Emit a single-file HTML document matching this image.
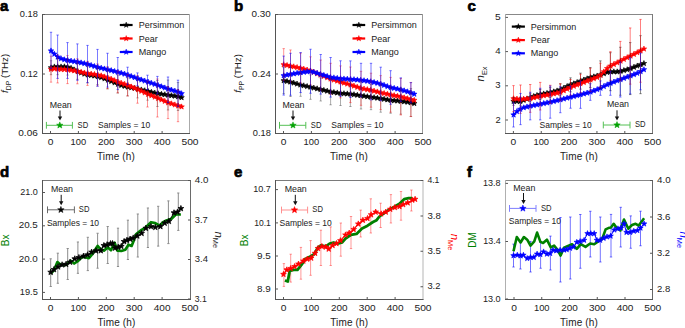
<!DOCTYPE html>
<html><head><meta charset="utf-8"><style>
html,body{margin:0;padding:0;background:#fff;}
svg{display:block;}
text{font-family:"Liberation Sans", sans-serif;}
</style></head><body>
<svg width="685" height="328" viewBox="0 0 685 328">
<rect width="685" height="328" fill="#fff"/>
<text x="0" y="11" font-size="15" text-anchor="start" fill="#000" font-weight="bold" stroke="#000" stroke-width="0.7">a</text>
<text x="234" y="11" font-size="15" text-anchor="start" fill="#000" font-weight="bold" stroke="#000" stroke-width="0.7">b</text>
<text x="467.5" y="11" font-size="15" text-anchor="start" fill="#000" font-weight="bold" stroke="#000" stroke-width="0.7">c</text>
<text x="0" y="176.5" font-size="15" text-anchor="start" fill="#000" font-weight="bold" stroke="#000" stroke-width="0.7">d</text>
<text x="234" y="176.5" font-size="15" text-anchor="start" fill="#000" font-weight="bold" stroke="#000" stroke-width="0.7">e</text>
<text x="467" y="176.5" font-size="15" text-anchor="start" fill="#000" font-weight="bold" stroke="#000" stroke-width="0.7">f</text>
<path d="M51.00,67.69L54.35,66.78L57.70,66.71L61.04,66.77L64.39,66.65L67.74,67.15L71.09,68.21L74.44,69.78L77.78,71.53L81.13,72.79L84.48,73.97L87.83,74.79L91.18,75.31L94.52,75.83L97.87,76.58L101.22,77.43L104.57,78.70L107.92,80.01L111.26,81.32L114.61,82.70L117.96,84.13L121.31,85.34L124.66,86.23L128.00,86.97L131.35,87.65L134.70,88.33L138.05,89.03L141.40,89.80L144.74,90.57L148.09,91.34L151.44,92.12L154.79,92.89L158.14,93.60L161.48,94.08L164.83,94.55L168.18,95.03L171.53,95.53L174.88,96.03L178.22,96.57L181.57,97.57" fill="none" stroke="#000000" stroke-width="1.5" stroke-linejoin="round"/>
<path d="M51.00,64.79L51.72,66.71L53.76,66.79L52.16,68.07L52.70,70.04L51.00,68.91L49.30,70.04L49.84,68.07L48.24,66.79L50.28,66.71ZM54.35,63.88L55.06,65.79L57.11,65.88L55.51,67.15L56.05,69.12L54.35,68.00L52.64,69.12L53.19,67.15L51.59,65.88L53.63,65.79ZM57.70,63.81L58.41,65.72L60.45,65.81L58.85,67.08L59.40,69.05L57.70,67.93L55.99,69.05L56.54,67.08L54.94,65.81L56.98,65.72ZM61.04,63.87L61.76,65.78L63.80,65.87L62.20,67.14L62.75,69.11L61.04,67.98L59.34,69.11L59.89,67.14L58.29,65.87L60.33,65.78ZM64.39,63.75L65.11,65.67L67.15,65.76L65.55,67.03L66.10,69.00L64.39,67.87L62.69,69.00L63.23,67.03L61.63,65.76L63.68,65.67ZM67.74,64.25L68.46,66.17L70.50,66.25L68.90,67.53L69.44,69.50L67.74,68.37L66.04,69.50L66.58,67.53L64.98,66.25L67.02,66.17ZM71.09,65.31L71.80,67.23L73.85,67.32L72.25,68.59L72.79,70.56L71.09,69.43L69.38,70.56L69.93,68.59L68.33,67.32L70.37,67.23ZM74.44,66.88L75.15,68.79L77.19,68.88L75.59,70.15L76.14,72.12L74.44,70.99L72.73,72.12L73.28,70.15L71.68,68.88L73.72,68.79ZM77.78,68.63L78.50,70.54L80.54,70.63L78.94,71.91L79.49,73.88L77.78,72.75L76.08,73.88L76.63,71.91L75.03,70.63L77.07,70.54ZM81.13,69.89L81.85,71.81L83.89,71.90L82.29,73.17L82.84,75.14L81.13,74.01L79.43,75.14L79.97,73.17L78.37,71.90L80.42,71.81ZM84.48,71.07L85.20,72.98L87.24,73.07L85.64,74.34L86.18,76.31L84.48,75.19L82.78,76.31L83.32,74.34L81.72,73.07L83.76,72.98ZM87.83,71.89L88.54,73.80L90.59,73.89L88.99,75.16L89.53,77.13L87.83,76.00L86.12,77.13L86.67,75.16L85.07,73.89L87.11,73.80ZM91.18,72.41L91.89,74.32L93.93,74.41L92.33,75.69L92.88,77.65L91.18,76.53L89.47,77.65L90.02,75.69L88.42,74.41L90.46,74.32ZM94.52,72.93L95.24,74.85L97.28,74.94L95.68,76.21L96.23,78.18L94.52,77.05L92.82,78.18L93.37,76.21L91.77,74.94L93.81,74.85ZM97.87,73.68L98.59,75.59L100.63,75.68L99.03,76.95L99.58,78.92L97.87,77.80L96.17,78.92L96.71,76.95L95.11,75.68L97.16,75.59ZM101.22,74.53L101.94,76.44L103.98,76.53L102.38,77.81L102.92,79.77L101.22,78.65L99.52,79.77L100.06,77.81L98.46,76.53L100.50,76.44ZM104.57,75.80L105.28,77.71L107.33,77.80L105.73,79.08L106.27,81.05L104.57,79.92L102.86,81.05L103.41,79.08L101.81,77.80L103.85,77.71ZM107.92,77.11L108.63,79.02L110.67,79.11L109.07,80.38L109.62,82.35L107.92,81.23L106.21,82.35L106.76,80.38L105.16,79.11L107.20,79.02ZM111.26,78.42L111.98,80.33L114.02,80.42L112.42,81.69L112.97,83.66L111.26,82.53L109.56,83.66L110.11,81.69L108.51,80.42L110.55,80.33ZM114.61,79.80L115.33,81.72L117.37,81.80L115.77,83.08L116.32,85.05L114.61,83.92L112.91,85.05L113.45,83.08L111.85,81.80L113.90,81.72ZM117.96,81.23L118.68,83.14L120.72,83.23L119.12,84.51L119.66,86.48L117.96,85.35L116.26,86.48L116.80,84.51L115.20,83.23L117.24,83.14ZM121.31,82.44L122.02,84.36L124.07,84.45L122.47,85.72L123.01,87.69L121.31,86.56L119.60,87.69L120.15,85.72L118.55,84.45L120.59,84.36ZM124.66,83.33L125.37,85.24L127.41,85.33L125.81,86.60L126.36,88.57L124.66,87.44L122.95,88.57L123.50,86.60L121.90,85.33L123.94,85.24ZM128.00,84.07L128.72,85.98L130.76,86.07L129.16,87.34L129.71,89.31L128.00,88.19L126.30,89.31L126.85,87.34L125.25,86.07L127.29,85.98ZM131.35,84.75L132.07,86.66L134.11,86.75L132.51,88.03L133.06,90.00L131.35,88.87L129.65,90.00L130.19,88.03L128.59,86.75L130.64,86.66ZM134.70,85.43L135.42,87.35L137.46,87.43L135.86,88.71L136.40,90.68L134.70,89.55L133.00,90.68L133.54,88.71L131.94,87.43L133.98,87.35ZM138.05,86.13L138.76,88.04L140.81,88.13L139.21,89.40L139.75,91.37L138.05,90.24L136.34,91.37L136.89,89.40L135.29,88.13L137.33,88.04ZM141.40,86.90L142.11,88.81L144.15,88.90L142.55,90.17L143.10,92.14L141.40,91.01L139.69,92.14L140.24,90.17L138.64,88.90L140.68,88.81ZM144.74,87.67L145.46,89.58L147.50,89.67L145.90,90.94L146.45,92.91L144.74,91.78L143.04,92.91L143.59,90.94L141.99,89.67L144.03,89.58ZM148.09,88.44L148.81,90.35L150.85,90.44L149.25,91.71L149.80,93.68L148.09,92.56L146.39,93.68L146.93,91.71L145.33,90.44L147.38,90.35ZM151.44,89.22L152.16,91.13L154.20,91.22L152.60,92.49L153.14,94.46L151.44,93.33L149.74,94.46L150.28,92.49L148.68,91.22L150.72,91.13ZM154.79,89.99L155.50,91.91L157.55,92.00L155.95,93.27L156.49,95.24L154.79,94.11L153.08,95.24L153.63,93.27L152.03,92.00L154.07,91.91ZM158.14,90.70L158.85,92.62L160.89,92.71L159.29,93.98L159.84,95.95L158.14,94.82L156.43,95.95L156.98,93.98L155.38,92.71L157.42,92.62ZM161.48,91.18L162.20,93.09L164.24,93.18L162.64,94.45L163.19,96.42L161.48,95.30L159.78,96.42L160.33,94.45L158.73,93.18L160.77,93.09ZM164.83,91.65L165.55,93.57L167.59,93.66L165.99,94.93L166.54,96.90L164.83,95.77L163.13,96.90L163.67,94.93L162.07,93.66L164.12,93.57ZM168.18,92.13L168.90,94.04L170.94,94.13L169.34,95.40L169.88,97.37L168.18,96.25L166.48,97.37L167.02,95.40L165.42,94.13L167.46,94.04ZM171.53,92.63L172.24,94.54L174.29,94.63L172.69,95.91L173.23,97.88L171.53,96.75L169.82,97.88L170.37,95.91L168.77,94.63L170.81,94.54ZM174.88,93.13L175.59,95.05L177.63,95.14L176.03,96.41L176.58,98.38L174.88,97.25L173.17,98.38L173.72,96.41L172.12,95.14L174.16,95.05ZM178.22,93.67L178.94,95.58L180.98,95.67L179.38,96.94L179.93,98.91L178.22,97.79L176.52,98.91L177.07,96.94L175.47,95.67L177.51,95.58ZM181.57,94.67L182.29,96.59L184.33,96.68L182.73,97.95L183.28,99.92L181.57,98.79L179.87,99.92L180.41,97.95L178.81,96.68L180.86,96.59Z" fill="#000000" stroke="#000000" stroke-width="0.6" stroke-linejoin="miter"/>
<path d="M51.00,69.15L54.35,68.71L57.70,68.96L61.04,69.32L64.39,69.37L67.74,69.66L71.09,70.15L74.44,70.70L77.78,71.39L81.13,72.13L84.48,72.86L87.83,73.45L91.18,73.90L94.52,74.35L97.87,74.96L101.22,75.67L104.57,76.78L107.92,77.88L111.26,79.09L114.61,80.51L117.96,81.93L121.31,83.13L124.66,84.17L128.00,85.44L131.35,86.80L134.70,88.16L138.05,89.56L141.40,91.13L144.74,92.70L148.09,94.24L151.44,95.59L154.79,96.94L158.14,98.32L161.48,99.77L164.83,101.23L168.18,102.66L171.53,103.69L174.88,104.73L178.22,105.77L181.57,106.77" fill="none" stroke="#ff0000" stroke-width="1.5" stroke-linejoin="round"/>
<path d="M51.00,66.25L51.72,68.16L53.76,68.25L52.16,69.52L52.70,71.49L51.00,70.37L49.30,71.49L49.84,69.52L48.24,68.25L50.28,68.16ZM54.35,65.81L55.06,67.73L57.11,67.81L55.51,69.09L56.05,71.06L54.35,69.93L52.64,71.06L53.19,69.09L51.59,67.81L53.63,67.73ZM57.70,66.06L58.41,67.98L60.45,68.07L58.85,69.34L59.40,71.31L57.70,70.18L55.99,71.31L56.54,69.34L54.94,68.07L56.98,67.98ZM61.04,66.42L61.76,68.33L63.80,68.42L62.20,69.69L62.75,71.66L61.04,70.54L59.34,71.66L59.89,69.69L58.29,68.42L60.33,68.33ZM64.39,66.47L65.11,68.39L67.15,68.48L65.55,69.75L66.10,71.72L64.39,70.59L62.69,71.72L63.23,69.75L61.63,68.48L63.68,68.39ZM67.74,66.76L68.46,68.67L70.50,68.76L68.90,70.03L69.44,72.00L67.74,70.87L66.04,72.00L66.58,70.03L64.98,68.76L67.02,68.67ZM71.09,67.25L71.80,69.16L73.85,69.25L72.25,70.52L72.79,72.49L71.09,71.36L69.38,72.49L69.93,70.52L68.33,69.25L70.37,69.16ZM74.44,67.80L75.15,69.71L77.19,69.80L75.59,71.07L76.14,73.04L74.44,71.91L72.73,73.04L73.28,71.07L71.68,69.80L73.72,69.71ZM77.78,68.49L78.50,70.41L80.54,70.50L78.94,71.77L79.49,73.74L77.78,72.61L76.08,73.74L76.63,71.77L75.03,70.50L77.07,70.41ZM81.13,69.23L81.85,71.14L83.89,71.23L82.29,72.50L82.84,74.47L81.13,73.34L79.43,74.47L79.97,72.50L78.37,71.23L80.42,71.14ZM84.48,69.96L85.20,71.88L87.24,71.97L85.64,73.24L86.18,75.21L84.48,74.08L82.78,75.21L83.32,73.24L81.72,71.97L83.76,71.88ZM87.83,70.55L88.54,72.46L90.59,72.55L88.99,73.82L89.53,75.79L87.83,74.67L86.12,75.79L86.67,73.82L85.07,72.55L87.11,72.46ZM91.18,71.00L91.89,72.92L93.93,73.00L92.33,74.28L92.88,76.25L91.18,75.12L89.47,76.25L90.02,74.28L88.42,73.00L90.46,72.92ZM94.52,71.45L95.24,73.37L97.28,73.46L95.68,74.73L96.23,76.70L94.52,75.57L92.82,76.70L93.37,74.73L91.77,73.46L93.81,73.37ZM97.87,72.06L98.59,73.98L100.63,74.07L99.03,75.34L99.58,77.31L97.87,76.18L96.17,77.31L96.71,75.34L95.11,74.07L97.16,73.98ZM101.22,72.77L101.94,74.69L103.98,74.78L102.38,76.05L102.92,78.02L101.22,76.89L99.52,78.02L100.06,76.05L98.46,74.78L100.50,74.69ZM104.57,73.88L105.28,75.79L107.33,75.88L105.73,77.15L106.27,79.12L104.57,77.99L102.86,79.12L103.41,77.15L101.81,75.88L103.85,75.79ZM107.92,74.98L108.63,76.89L110.67,76.98L109.07,78.26L109.62,80.23L107.92,79.10L106.21,80.23L106.76,78.26L105.16,76.98L107.20,76.89ZM111.26,76.19L111.98,78.11L114.02,78.20L112.42,79.47L112.97,81.44L111.26,80.31L109.56,81.44L110.11,79.47L108.51,78.20L110.55,78.11ZM114.61,77.61L115.33,79.53L117.37,79.62L115.77,80.89L116.32,82.86L114.61,81.73L112.91,82.86L113.45,80.89L111.85,79.62L113.90,79.53ZM117.96,79.03L118.68,80.95L120.72,81.04L119.12,82.31L119.66,84.28L117.96,83.15L116.26,84.28L116.80,82.31L115.20,81.04L117.24,80.95ZM121.31,80.23L122.02,82.14L124.07,82.23L122.47,83.50L123.01,85.47L121.31,84.35L119.60,85.47L120.15,83.50L118.55,82.23L120.59,82.14ZM124.66,81.27L125.37,83.19L127.41,83.28L125.81,84.55L126.36,86.52L124.66,85.39L122.95,86.52L123.50,84.55L121.90,83.28L123.94,83.19ZM128.00,82.54L128.72,84.45L130.76,84.54L129.16,85.81L129.71,87.78L128.00,86.66L126.30,87.78L126.85,85.81L125.25,84.54L127.29,84.45ZM131.35,83.90L132.07,85.81L134.11,85.90L132.51,87.18L133.06,89.15L131.35,88.02L129.65,89.15L130.19,87.18L128.59,85.90L130.64,85.81ZM134.70,85.26L135.42,87.18L137.46,87.26L135.86,88.54L136.40,90.51L134.70,89.38L133.00,90.51L133.54,88.54L131.94,87.26L133.98,87.18ZM138.05,86.66L138.76,88.57L140.81,88.66L139.21,89.93L139.75,91.90L138.05,90.78L136.34,91.90L136.89,89.93L135.29,88.66L137.33,88.57ZM141.40,88.23L142.11,90.15L144.15,90.23L142.55,91.51L143.10,93.48L141.40,92.35L139.69,93.48L140.24,91.51L138.64,90.23L140.68,90.15ZM144.74,89.80L145.46,91.72L147.50,91.81L145.90,93.08L146.45,95.05L144.74,93.92L143.04,95.05L143.59,93.08L141.99,91.81L144.03,91.72ZM148.09,91.34L148.81,93.25L150.85,93.34L149.25,94.62L149.80,96.59L148.09,95.46L146.39,96.59L146.93,94.62L145.33,93.34L147.38,93.25ZM151.44,92.69L152.16,94.61L154.20,94.70L152.60,95.97L153.14,97.94L151.44,96.81L149.74,97.94L150.28,95.97L148.68,94.70L150.72,94.61ZM154.79,94.04L155.50,95.96L157.55,96.05L155.95,97.32L156.49,99.29L154.79,98.16L153.08,99.29L153.63,97.32L152.03,96.05L154.07,95.96ZM158.14,95.42L158.85,97.33L160.89,97.42L159.29,98.70L159.84,100.67L158.14,99.54L156.43,100.67L156.98,98.70L155.38,97.42L157.42,97.33ZM161.48,96.87L162.20,98.79L164.24,98.88L162.64,100.15L163.19,102.12L161.48,100.99L159.78,102.12L160.33,100.15L158.73,98.88L160.77,98.79ZM164.83,98.33L165.55,100.24L167.59,100.33L165.99,101.60L166.54,103.57L164.83,102.44L163.13,103.57L163.67,101.60L162.07,100.33L164.12,100.24ZM168.18,99.76L168.90,101.67L170.94,101.76L169.34,103.03L169.88,105.00L168.18,103.87L166.48,105.00L167.02,103.03L165.42,101.76L167.46,101.67ZM171.53,100.79L172.24,102.71L174.29,102.80L172.69,104.07L173.23,106.04L171.53,104.91L169.82,106.04L170.37,104.07L168.77,102.80L170.81,102.71ZM174.88,101.83L175.59,103.75L177.63,103.84L176.03,105.11L176.58,107.08L174.88,105.95L173.17,107.08L173.72,105.11L172.12,103.84L174.16,103.75ZM178.22,102.87L178.94,104.78L180.98,104.87L179.38,106.14L179.93,108.11L178.22,106.99L176.52,108.11L177.07,106.14L175.47,104.87L177.51,104.78ZM181.57,103.87L182.29,105.79L184.33,105.88L182.73,107.15L183.28,109.12L181.57,107.99L179.87,109.12L180.41,107.15L178.81,105.88L180.86,105.79Z" fill="#ff0000" stroke="#ff0000" stroke-width="0.6" stroke-linejoin="miter"/>
<path d="M51.00,50.79L54.35,54.03L57.70,56.97L61.04,58.58L64.39,59.61L67.74,60.34L71.09,60.91L74.44,61.46L77.78,62.01L81.13,62.74L84.48,63.50L87.83,64.26L91.18,65.29L94.52,66.34L97.87,67.24L101.22,68.04L104.57,68.83L107.92,69.63L111.26,70.47L114.61,71.30L117.96,72.16L121.31,73.08L124.66,74.01L128.00,75.12L131.35,76.31L134.70,77.50L138.05,78.68L141.40,79.79L144.74,80.89L148.09,82.00L151.44,83.11L154.79,84.23L158.14,85.36L161.48,86.56L164.83,87.76L168.18,88.95L171.53,89.96L174.88,90.96L178.22,92.00L181.57,93.54" fill="none" stroke="#0000ff" stroke-width="1.5" stroke-linejoin="round"/>
<path d="M51.00,47.89L51.72,49.80L53.76,49.89L52.16,51.16L52.70,53.13L51.00,52.01L49.30,53.13L49.84,51.16L48.24,49.89L50.28,49.80ZM54.35,51.13L55.06,53.05L57.11,53.13L55.51,54.41L56.05,56.38L54.35,55.25L52.64,56.38L53.19,54.41L51.59,53.13L53.63,53.05ZM57.70,54.07L58.41,55.99L60.45,56.08L58.85,57.35L59.40,59.32L57.70,58.19L55.99,59.32L56.54,57.35L54.94,56.08L56.98,55.99ZM61.04,55.68L61.76,57.60L63.80,57.69L62.20,58.96L62.75,60.93L61.04,59.80L59.34,60.93L59.89,58.96L58.29,57.69L60.33,57.60ZM64.39,56.71L65.11,58.62L67.15,58.71L65.55,59.98L66.10,61.95L64.39,60.82L62.69,61.95L63.23,59.98L61.63,58.71L63.68,58.62ZM67.74,57.44L68.46,59.36L70.50,59.45L68.90,60.72L69.44,62.69L67.74,61.56L66.04,62.69L66.58,60.72L64.98,59.45L67.02,59.36ZM71.09,58.01L71.80,59.92L73.85,60.01L72.25,61.29L72.79,63.26L71.09,62.13L69.38,63.26L69.93,61.29L68.33,60.01L70.37,59.92ZM74.44,58.56L75.15,60.48L77.19,60.57L75.59,61.84L76.14,63.81L74.44,62.68L72.73,63.81L73.28,61.84L71.68,60.57L73.72,60.48ZM77.78,59.11L78.50,61.03L80.54,61.12L78.94,62.39L79.49,64.36L77.78,63.23L76.08,64.36L76.63,62.39L75.03,61.12L77.07,61.03ZM81.13,59.84L81.85,61.76L83.89,61.85L82.29,63.12L82.84,65.09L81.13,63.96L79.43,65.09L79.97,63.12L78.37,61.85L80.42,61.76ZM84.48,60.60L85.20,62.52L87.24,62.61L85.64,63.88L86.18,65.85L84.48,64.72L82.78,65.85L83.32,63.88L81.72,62.61L83.76,62.52ZM87.83,61.36L88.54,63.28L90.59,63.36L88.99,64.64L89.53,66.61L87.83,65.48L86.12,66.61L86.67,64.64L85.07,63.36L87.11,63.28ZM91.18,62.39L91.89,64.31L93.93,64.40L92.33,65.67L92.88,67.64L91.18,66.51L89.47,67.64L90.02,65.67L88.42,64.40L90.46,64.31ZM94.52,63.44L95.24,65.35L97.28,65.44L95.68,66.72L96.23,68.68L94.52,67.56L92.82,68.68L93.37,66.72L91.77,65.44L93.81,65.35ZM97.87,64.34L98.59,66.26L100.63,66.35L99.03,67.62L99.58,69.59L97.87,68.46L96.17,69.59L96.71,67.62L95.11,66.35L97.16,66.26ZM101.22,65.14L101.94,67.05L103.98,67.14L102.38,68.41L102.92,70.38L101.22,69.25L99.52,70.38L100.06,68.41L98.46,67.14L100.50,67.05ZM104.57,65.93L105.28,67.84L107.33,67.93L105.73,69.21L106.27,71.18L104.57,70.05L102.86,71.18L103.41,69.21L101.81,67.93L103.85,67.84ZM107.92,66.73L108.63,68.64L110.67,68.73L109.07,70.01L109.62,71.98L107.92,70.85L106.21,71.98L106.76,70.01L105.16,68.73L107.20,68.64ZM111.26,67.57L111.98,69.48L114.02,69.57L112.42,70.84L112.97,72.81L111.26,71.68L109.56,72.81L110.11,70.84L108.51,69.57L110.55,69.48ZM114.61,68.40L115.33,70.32L117.37,70.41L115.77,71.68L116.32,73.65L114.61,72.52L112.91,73.65L113.45,71.68L111.85,70.41L113.90,70.32ZM117.96,69.26L118.68,71.17L120.72,71.26L119.12,72.53L119.66,74.50L117.96,73.37L116.26,74.50L116.80,72.53L115.20,71.26L117.24,71.17ZM121.31,70.18L122.02,72.10L124.07,72.19L122.47,73.46L123.01,75.43L121.31,74.30L119.60,75.43L120.15,73.46L118.55,72.19L120.59,72.10ZM124.66,71.11L125.37,73.03L127.41,73.11L125.81,74.39L126.36,76.36L124.66,75.23L122.95,76.36L123.50,74.39L121.90,73.11L123.94,73.03ZM128.00,72.22L128.72,74.13L130.76,74.22L129.16,75.50L129.71,77.47L128.00,76.34L126.30,77.47L126.85,75.50L125.25,74.22L127.29,74.13ZM131.35,73.41L132.07,75.33L134.11,75.42L132.51,76.69L133.06,78.66L131.35,77.53L129.65,78.66L130.19,76.69L128.59,75.42L130.64,75.33ZM134.70,74.60L135.42,76.52L137.46,76.61L135.86,77.88L136.40,79.85L134.70,78.72L133.00,79.85L133.54,77.88L131.94,76.61L133.98,76.52ZM138.05,75.78L138.76,77.70L140.81,77.78L139.21,79.06L139.75,81.03L138.05,79.90L136.34,81.03L136.89,79.06L135.29,77.78L137.33,77.70ZM141.40,76.89L142.11,78.80L144.15,78.89L142.55,80.16L143.10,82.13L141.40,81.00L139.69,82.13L140.24,80.16L138.64,78.89L140.68,78.80ZM144.74,77.99L145.46,79.91L147.50,79.99L145.90,81.27L146.45,83.24L144.74,82.11L143.04,83.24L143.59,81.27L141.99,79.99L144.03,79.91ZM148.09,79.10L148.81,81.01L150.85,81.10L149.25,82.37L149.80,84.34L148.09,83.22L146.39,84.34L146.93,82.37L145.33,81.10L147.38,81.01ZM151.44,80.21L152.16,82.13L154.20,82.22L152.60,83.49L153.14,85.46L151.44,84.33L149.74,85.46L150.28,83.49L148.68,82.22L150.72,82.13ZM154.79,81.33L155.50,83.24L157.55,83.33L155.95,84.61L156.49,86.58L154.79,85.45L153.08,86.58L153.63,84.61L152.03,83.33L154.07,83.24ZM158.14,82.46L158.85,84.38L160.89,84.47L159.29,85.74L159.84,87.71L158.14,86.58L156.43,87.71L156.98,85.74L155.38,84.47L157.42,84.38ZM161.48,83.66L162.20,85.58L164.24,85.67L162.64,86.94L163.19,88.91L161.48,87.78L159.78,88.91L160.33,86.94L158.73,85.67L160.77,85.58ZM164.83,84.86L165.55,86.78L167.59,86.87L165.99,88.14L166.54,90.11L164.83,88.98L163.13,90.11L163.67,88.14L162.07,86.87L164.12,86.78ZM168.18,86.05L168.90,87.97L170.94,88.06L169.34,89.33L169.88,91.30L168.18,90.17L166.48,91.30L167.02,89.33L165.42,88.06L167.46,87.97ZM171.53,87.06L172.24,88.97L174.29,89.06L172.69,90.33L173.23,92.30L171.53,91.18L169.82,92.30L170.37,90.33L168.77,89.06L170.81,88.97ZM174.88,88.06L175.59,89.98L177.63,90.07L176.03,91.34L176.58,93.31L174.88,92.18L173.17,93.31L173.72,91.34L172.12,90.07L174.16,89.98ZM178.22,89.10L178.94,91.02L180.98,91.11L179.38,92.38L179.93,94.35L178.22,93.22L176.52,94.35L177.07,92.38L175.47,91.11L177.51,91.02ZM181.57,90.64L182.29,92.56L184.33,92.65L182.73,93.92L183.28,95.89L181.57,94.76L179.87,95.89L180.41,93.92L178.81,92.65L180.86,92.56Z" fill="#0000ff" stroke="#0000ff" stroke-width="0.6" stroke-linejoin="miter"/>
<path d="M51.00,60.69V74.69M49.80,60.69H52.20M49.80,74.69H52.20M57.60,58.70V74.70M56.40,58.70H58.80M56.40,74.70H58.80M67.50,59.07V75.07M66.30,59.07H68.70M66.30,75.07H68.70M77.40,63.33V79.33M76.20,63.33H78.60M76.20,79.33H78.60M87.50,66.73V82.73M86.30,66.73H88.70M86.30,82.73H88.70M97.50,68.48V84.48M96.30,68.48H98.70M96.30,84.48H98.70M107.50,70.85V88.85M106.30,70.85H108.70M106.30,88.85H108.70M117.75,75.04V93.04M116.55,75.04H118.95M116.55,93.04H118.95M127.60,77.89V95.89M126.40,77.89H128.80M126.40,95.89H128.80M137.50,79.90V97.90M136.30,79.90H138.70M136.30,97.90H138.70M147.50,82.20V100.20M146.30,82.20H148.70M146.30,100.20H148.70M157.40,80.50V106.50M156.20,80.50H158.60M156.20,106.50H158.60M168.00,80.00V110.00M166.80,80.00H169.20M166.80,110.00H169.20M178.00,82.50V110.50M176.80,82.50H179.20M176.80,110.50H179.20" fill="none" stroke="#000000" stroke-width="1" stroke-opacity="0.32"/>
<path d="M51.00,56.15V82.15M49.80,56.15H52.20M49.80,82.15H52.20M57.60,54.95V82.95M56.40,54.95H58.80M56.40,82.95H58.80M67.50,55.62V83.62M66.30,55.62H68.70M66.30,83.62H68.70M77.40,58.81V83.81M76.20,58.81H78.60M76.20,83.81H78.60M87.50,61.40V85.40M86.30,61.40H88.70M86.30,85.40H88.70M97.50,63.89V85.89M96.30,63.89H98.70M96.30,85.89H98.70M107.50,66.74V88.74M106.30,66.74H108.70M106.30,88.74H108.70M117.75,70.84V92.84M116.55,70.84H118.95M116.55,92.84H118.95M127.60,74.57V95.97M126.40,74.57H128.80M126.40,95.97H128.80M137.50,75.40V103.20M136.30,75.40H138.70M136.30,103.20H138.70M147.50,81.00V107.00M146.30,81.00H148.70M146.30,107.00H148.70M157.40,79.00V117.00M156.20,79.00H158.60M156.20,117.00H158.60M168.00,86.60V118.60M166.80,86.60H169.20M166.80,118.60H169.20M178.00,89.70V121.70M176.80,89.70H179.20M176.80,121.70H179.20" fill="none" stroke="#ff0000" stroke-width="1" stroke-opacity="0.42"/>
<path d="M51.00,32.25V68.50M49.80,32.25H52.20M49.80,68.50H52.20M57.60,35.00V78.40M56.40,35.00H58.80M56.40,78.40H58.80M67.50,42.60V78.40M66.30,42.60H68.70M66.30,78.40H68.70M77.40,43.90V80.25M76.20,43.90H78.60M76.20,80.25H78.60M87.50,45.40V82.75M86.30,45.40H88.70M86.30,82.75H88.70M97.50,49.40V86.25M96.30,49.40H98.70M96.30,86.25H98.70M107.50,53.25V87.10M106.30,53.25H108.70M106.30,87.10H108.70M117.75,57.50V89.60M116.55,57.50H118.95M116.55,89.60H118.95M127.60,67.20V84.60M126.40,67.20H128.80M126.40,84.60H128.80M137.50,72.90V85.80M136.30,72.90H138.70M136.30,85.80H138.70M147.50,75.20V89.60M146.30,75.20H148.70M146.30,89.60H148.70M157.40,76.40V93.80M156.20,76.40H158.60M156.20,93.80H158.60M168.00,77.00V102.60M166.80,77.00H169.20M166.80,102.60H169.20M178.00,80.20V106.40M176.80,80.20H179.20M176.80,106.40H179.20" fill="none" stroke="#0000ff" stroke-width="1" stroke-opacity="0.52"/>
<path d="M42.5,14.5H189.5" fill="none" stroke="#7a7a7a" stroke-width="1" stroke-linecap="square"/>
<path d="M189.5,14.5V133.5" fill="none" stroke="#aaaaaa" stroke-width="1" stroke-linecap="square"/>
<path d="M42.5,14.5V133.5" fill="none" stroke="#555" stroke-width="1" stroke-linecap="square"/>
<path d="M42.5,133.5H189.5" fill="none" stroke="#555" stroke-width="1" stroke-linecap="square"/>
<line x1="42.5" y1="14.5" x2="45.0" y2="14.5" stroke="#555555" stroke-width="1" />
<text x="37.8" y="17.10" font-size="9.9" text-anchor="end" fill="#222222" textLength="18.00" lengthAdjust="spacingAndGlyphs">0.18</text>
<line x1="42.5" y1="74" x2="45.0" y2="74" stroke="#555555" stroke-width="1" />
<text x="37.8" y="76.60" font-size="9.9" text-anchor="end" fill="#222222" textLength="17.60" lengthAdjust="spacingAndGlyphs">0.12</text>
<line x1="42.5" y1="133.5" x2="45.0" y2="133.5" stroke="#555555" stroke-width="1" />
<text x="37.8" y="136.10" font-size="9.9" text-anchor="end" fill="#222222" textLength="19.50" lengthAdjust="spacingAndGlyphs">0.06</text>
<line x1="50.5" y1="133.5" x2="50.5" y2="131.0" stroke="#555555" stroke-width="1" />
<text x="50.50" y="145.3" font-size="9.9" text-anchor="middle" fill="#222222" textLength="5.70" lengthAdjust="spacingAndGlyphs">0</text>
<line x1="78.4" y1="133.5" x2="78.4" y2="131.0" stroke="#555555" stroke-width="1" />
<text x="78.40" y="145.3" font-size="9.9" text-anchor="middle" fill="#222222" textLength="15.60" lengthAdjust="spacingAndGlyphs">100</text>
<line x1="106.30000000000001" y1="133.5" x2="106.30000000000001" y2="131.0" stroke="#555555" stroke-width="1" />
<text x="106.30" y="145.3" font-size="9.9" text-anchor="middle" fill="#222222" textLength="16.60" lengthAdjust="spacingAndGlyphs">200</text>
<line x1="134.2" y1="133.5" x2="134.2" y2="131.0" stroke="#555555" stroke-width="1" />
<text x="134.20" y="145.3" font-size="9.9" text-anchor="middle" fill="#222222" textLength="16.70" lengthAdjust="spacingAndGlyphs">300</text>
<line x1="162.10000000000002" y1="133.5" x2="162.10000000000002" y2="131.0" stroke="#555555" stroke-width="1" />
<text x="162.10" y="145.3" font-size="9.9" text-anchor="middle" fill="#222222" textLength="16.75" lengthAdjust="spacingAndGlyphs">400</text>
<text x="190.00" y="145.3" font-size="9.9" text-anchor="middle" fill="#222222" textLength="17.10" lengthAdjust="spacingAndGlyphs">500</text>
<text x="116.00" y="160.0" font-size="10" text-anchor="middle" fill="#222222" font-weight="normal" letter-spacing="0.15" >Time (h)</text>
<line x1="119.8" y1="25" x2="132.6" y2="25" stroke="#000000" stroke-width="2.2" />
<path d="M126.20,22.00L126.94,23.98L129.05,24.07L127.40,25.39L127.96,27.43L126.20,26.26L124.44,27.43L125.00,25.39L123.35,24.07L125.46,23.98Z" fill="#000000" stroke="#000000" stroke-width="0.4"/>
<text x="138.7" y="28.10" font-size="9" text-anchor="start" fill="#222222" font-weight="normal" >Persimmon</text>
<line x1="119.8" y1="38.5" x2="132.6" y2="38.5" stroke="#ff0000" stroke-width="2.2" />
<path d="M126.20,35.50L126.94,37.48L129.05,37.57L127.40,38.89L127.96,40.93L126.20,39.76L124.44,40.93L125.00,38.89L123.35,37.57L125.46,37.48Z" fill="#ff0000" stroke="#ff0000" stroke-width="0.4"/>
<text x="138.7" y="41.60" font-size="9" text-anchor="start" fill="#222222" font-weight="normal" >Pear</text>
<line x1="119.8" y1="52" x2="132.6" y2="52" stroke="#0000ff" stroke-width="2.2" />
<path d="M126.20,49.00L126.94,50.98L129.05,51.07L127.40,52.39L127.96,54.43L126.20,53.26L124.44,54.43L125.00,52.39L123.35,51.07L125.46,50.98Z" fill="#0000ff" stroke="#0000ff" stroke-width="0.4"/>
<text x="138.7" y="55.10" font-size="9" text-anchor="start" fill="#222222" font-weight="normal" >Mango</text>
<text x="49.7" y="108" font-size="8.8" text-anchor="start" fill="#222222" font-weight="normal" >Mean</text>
<line x1="60" y1="110.5" x2="60" y2="118.5" stroke="#111" stroke-width="1" />
<path d="M57.8,116.5L62.2,116.5L60,120.5Z" fill="#111"/>
<path d="M46.4,125.3H72.4M46.4,121.89999999999999V128.7M72.4,121.89999999999999V128.7" stroke="#55c055" stroke-width="1" fill="none"/>
<path d="M59.80,121.90L60.64,124.14L63.03,124.25L61.16,125.74L61.80,128.05L59.80,126.73L57.80,128.05L58.44,125.74L56.57,124.25L58.96,124.14Z" fill="#00a000" stroke="#00a000" stroke-width="0.5"/>
<text x="77.6" y="127.70" font-size="8.8" text-anchor="start" fill="#222222" font-weight="normal" textLength="10.6" lengthAdjust="spacingAndGlyphs">SD</text>
<text x="98" y="127.70" font-size="8.8" text-anchor="start" fill="#222222" font-weight="normal" textLength="52.2" lengthAdjust="spacingAndGlyphs">Samples = 10</text>
<text transform="translate(8.4,73.4) rotate(-90)" font-size="9.7" text-anchor="middle" fill="#222222"><tspan font-style="italic">f</tspan><tspan font-size="6.8" dy="2.2">DP</tspan><tspan dy="-2.2"> (THz)</tspan></text>
<path d="M283.70,80.62L287.05,81.28L290.40,81.96L293.74,82.93L297.09,83.90L300.44,84.87L303.79,85.64L307.14,86.39L310.48,87.13L313.83,87.90L317.18,88.68L320.53,89.46L323.88,90.24L327.22,91.02L330.57,91.79L333.92,92.30L337.27,92.81L340.62,93.31L343.96,93.54L347.31,93.78L350.66,94.04L354.01,94.54L357.36,95.05L360.70,95.56L364.05,96.06L367.40,96.56L370.75,97.06L374.10,97.54L377.44,98.01L380.79,98.51L384.14,99.11L387.49,99.71L390.84,100.26L394.18,100.56L397.53,100.85L400.88,101.18L404.23,101.61L407.58,102.05L410.92,102.56L414.27,103.45" fill="none" stroke="#000000" stroke-width="1.5" stroke-linejoin="round"/>
<path d="M283.70,77.72L284.42,79.63L286.46,79.72L284.86,80.99L285.40,82.96L283.70,81.84L282.00,82.96L282.54,80.99L280.94,79.72L282.98,79.63ZM287.05,78.38L287.76,80.29L289.81,80.38L288.21,81.65L288.75,83.62L287.05,82.50L285.34,83.62L285.89,81.65L284.29,80.38L286.33,80.29ZM290.40,79.06L291.11,80.97L293.15,81.06L291.55,82.33L292.10,84.30L290.40,83.17L288.69,84.30L289.24,82.33L287.64,81.06L289.68,80.97ZM293.74,80.03L294.46,81.94L296.50,82.03L294.90,83.30L295.45,85.27L293.74,84.14L292.04,85.27L292.59,83.30L290.99,82.03L293.03,81.94ZM297.09,81.00L297.81,82.91L299.85,83.00L298.25,84.27L298.80,86.24L297.09,85.11L295.39,86.24L295.93,84.27L294.33,83.00L296.38,82.91ZM300.44,81.97L301.16,83.88L303.20,83.97L301.60,85.24L302.14,87.21L300.44,86.08L298.74,87.21L299.28,85.24L297.68,83.97L299.72,83.88ZM303.79,82.74L304.50,84.66L306.55,84.75L304.95,86.02L305.49,87.99L303.79,86.86L302.08,87.99L302.63,86.02L301.03,84.75L303.07,84.66ZM307.14,83.49L307.85,85.40L309.89,85.49L308.29,86.76L308.84,88.73L307.14,87.60L305.43,88.73L305.98,86.76L304.38,85.49L306.42,85.40ZM310.48,84.23L311.20,86.14L313.24,86.23L311.64,87.51L312.19,89.48L310.48,88.35L308.78,89.48L309.33,87.51L307.73,86.23L309.77,86.14ZM313.83,85.00L314.55,86.92L316.59,87.01L314.99,88.28L315.54,90.25L313.83,89.12L312.13,90.25L312.67,88.28L311.07,87.01L313.12,86.92ZM317.18,85.78L317.90,87.70L319.94,87.79L318.34,89.06L318.88,91.03L317.18,89.90L315.48,91.03L316.02,89.06L314.42,87.79L316.46,87.70ZM320.53,86.56L321.24,88.47L323.29,88.56L321.69,89.84L322.23,91.81L320.53,90.68L318.82,91.81L319.37,89.84L317.77,88.56L319.81,88.47ZM323.88,87.34L324.59,89.25L326.63,89.34L325.03,90.61L325.58,92.58L323.88,91.46L322.17,92.58L322.72,90.61L321.12,89.34L323.16,89.25ZM327.22,88.12L327.94,90.03L329.98,90.12L328.38,91.39L328.93,93.36L327.22,92.23L325.52,93.36L326.07,91.39L324.47,90.12L326.51,90.03ZM330.57,88.89L331.29,90.81L333.33,90.90L331.73,92.17L332.28,94.14L330.57,93.01L328.87,94.14L329.41,92.17L327.81,90.90L329.86,90.81ZM333.92,89.40L334.64,91.32L336.68,91.41L335.08,92.68L335.62,94.65L333.92,93.52L332.22,94.65L332.76,92.68L331.16,91.41L333.20,91.32ZM337.27,89.91L337.98,91.82L340.03,91.91L338.43,93.19L338.97,95.16L337.27,94.03L335.56,95.16L336.11,93.19L334.51,91.91L336.55,91.82ZM340.62,90.41L341.33,92.32L343.37,92.41L341.77,93.68L342.32,95.65L340.62,94.53L338.91,95.65L339.46,93.68L337.86,92.41L339.90,92.32ZM343.96,90.64L344.68,92.56L346.72,92.65L345.12,93.92L345.67,95.89L343.96,94.76L342.26,95.89L342.81,93.92L341.21,92.65L343.25,92.56ZM347.31,90.88L348.03,92.80L350.07,92.89L348.47,94.16L349.02,96.13L347.31,95.00L345.61,96.13L346.15,94.16L344.55,92.89L346.60,92.80ZM350.66,91.14L351.38,93.05L353.42,93.14L351.82,94.42L352.36,96.39L350.66,95.26L348.96,96.39L349.50,94.42L347.90,93.14L349.94,93.05ZM354.01,91.64L354.72,93.56L356.77,93.65L355.17,94.92L355.71,96.89L354.01,95.76L352.30,96.89L352.85,94.92L351.25,93.65L353.29,93.56ZM357.36,92.15L358.07,94.06L360.11,94.15L358.51,95.43L359.06,97.40L357.36,96.27L355.65,97.40L356.20,95.43L354.60,94.15L356.64,94.06ZM360.70,92.66L361.42,94.57L363.46,94.66L361.86,95.93L362.41,97.90L360.70,96.77L359.00,97.90L359.55,95.93L357.95,94.66L359.99,94.57ZM364.05,93.16L364.77,95.07L366.81,95.16L365.21,96.43L365.76,98.40L364.05,97.28L362.35,98.40L362.89,96.43L361.29,95.16L363.34,95.07ZM367.40,93.66L368.12,95.57L370.16,95.66L368.56,96.94L369.10,98.91L367.40,97.78L365.70,98.91L366.24,96.94L364.64,95.66L366.68,95.57ZM370.75,94.16L371.46,96.08L373.51,96.17L371.91,97.44L372.45,99.41L370.75,98.28L369.04,99.41L369.59,97.44L367.99,96.17L370.03,96.08ZM374.10,94.64L374.81,96.55L376.85,96.64L375.25,97.91L375.80,99.88L374.10,98.76L372.39,99.88L372.94,97.91L371.34,96.64L373.38,96.55ZM377.44,95.11L378.16,97.03L380.20,97.11L378.60,98.39L379.15,100.36L377.44,99.23L375.74,100.36L376.29,98.39L374.69,97.11L376.73,97.03ZM380.79,95.61L381.51,97.52L383.55,97.61L381.95,98.88L382.50,100.85L380.79,99.72L379.09,100.85L379.63,98.88L378.03,97.61L380.08,97.52ZM384.14,96.21L384.86,98.12L386.90,98.21L385.30,99.49L385.84,101.46L384.14,100.33L382.44,101.46L382.98,99.49L381.38,98.21L383.42,98.12ZM387.49,96.81L388.20,98.73L390.25,98.82L388.65,100.09L389.19,102.06L387.49,100.93L385.78,102.06L386.33,100.09L384.73,98.82L386.77,98.73ZM390.84,97.36L391.55,99.27L393.59,99.36L391.99,100.63L392.54,102.60L390.84,101.47L389.13,102.60L389.68,100.63L388.08,99.36L390.12,99.27ZM394.18,97.66L394.90,99.57L396.94,99.66L395.34,100.93L395.89,102.90L394.18,101.77L392.48,102.90L393.03,100.93L391.43,99.66L393.47,99.57ZM397.53,97.95L398.25,99.87L400.29,99.96L398.69,101.23L399.24,103.20L397.53,102.07L395.83,103.20L396.37,101.23L394.77,99.96L396.82,99.87ZM400.88,98.28L401.60,100.19L403.64,100.28L402.04,101.55L402.58,103.52L400.88,102.39L399.18,103.52L399.72,101.55L398.12,100.28L400.16,100.19ZM404.23,98.71L404.94,100.63L406.99,100.71L405.39,101.99L405.93,103.96L404.23,102.83L402.52,103.96L403.07,101.99L401.47,100.71L403.51,100.63ZM407.58,99.15L408.29,101.06L410.33,101.15L408.73,102.42L409.28,104.39L407.58,103.26L405.87,104.39L406.42,102.42L404.82,101.15L406.86,101.06ZM410.92,99.66L411.64,101.58L413.68,101.67L412.08,102.94L412.63,104.91L410.92,103.78L409.22,104.91L409.77,102.94L408.17,101.67L410.21,101.58ZM414.27,100.55L414.99,102.46L417.03,102.55L415.43,103.82L415.98,105.79L414.27,104.66L412.57,105.79L413.11,103.82L411.51,102.55L413.56,102.46Z" fill="#000000" stroke="#000000" stroke-width="0.6" stroke-linejoin="miter"/>
<path d="M283.70,64.62L287.05,65.28L290.40,65.94L293.74,66.66L297.09,67.38L300.44,68.10L303.79,68.99L307.14,69.90L310.48,70.81L313.83,72.16L317.18,73.54L320.53,74.93L323.88,76.25L327.22,77.57L330.57,78.89L333.92,79.91L337.27,80.92L340.62,81.93L343.96,82.91L347.31,83.90L350.66,84.89L354.01,85.99L357.36,87.10L360.70,88.20L364.05,88.88L367.40,89.52L370.75,90.15L374.10,90.97L377.44,91.81L380.79,92.63L384.14,93.37L387.49,94.10L390.84,94.82L394.18,95.45L397.53,96.08L400.88,96.76L404.23,97.66L407.58,98.56L410.92,99.44L414.27,100.21" fill="none" stroke="#ff0000" stroke-width="1.5" stroke-linejoin="round"/>
<path d="M283.70,61.72L284.42,63.63L286.46,63.72L284.86,64.99L285.40,66.96L283.70,65.84L282.00,66.96L282.54,64.99L280.94,63.72L282.98,63.63ZM287.05,62.38L287.76,64.29L289.81,64.38L288.21,65.65L288.75,67.62L287.05,66.50L285.34,67.62L285.89,65.65L284.29,64.38L286.33,64.29ZM290.40,63.04L291.11,64.96L293.15,65.05L291.55,66.32L292.10,68.29L290.40,67.16L288.69,68.29L289.24,66.32L287.64,65.05L289.68,64.96ZM293.74,63.76L294.46,65.68L296.50,65.77L294.90,67.04L295.45,69.01L293.74,67.88L292.04,69.01L292.59,67.04L290.99,65.77L293.03,65.68ZM297.09,64.48L297.81,66.40L299.85,66.49L298.25,67.76L298.80,69.73L297.09,68.60L295.39,69.73L295.93,67.76L294.33,66.49L296.38,66.40ZM300.44,65.20L301.16,67.12L303.20,67.20L301.60,68.48L302.14,70.45L300.44,69.32L298.74,70.45L299.28,68.48L297.68,67.20L299.72,67.12ZM303.79,66.09L304.50,68.00L306.55,68.09L304.95,69.36L305.49,71.33L303.79,70.21L302.08,71.33L302.63,69.36L301.03,68.09L303.07,68.00ZM307.14,67.00L307.85,68.92L309.89,69.00L308.29,70.28L308.84,72.25L307.14,71.12L305.43,72.25L305.98,70.28L304.38,69.00L306.42,68.92ZM310.48,67.91L311.20,69.83L313.24,69.92L311.64,71.19L312.19,73.16L310.48,72.03L308.78,73.16L309.33,71.19L307.73,69.92L309.77,69.83ZM313.83,69.26L314.55,71.17L316.59,71.26L314.99,72.53L315.54,74.50L313.83,73.37L312.13,74.50L312.67,72.53L311.07,71.26L313.12,71.17ZM317.18,70.64L317.90,72.56L319.94,72.65L318.34,73.92L318.88,75.89L317.18,74.76L315.48,75.89L316.02,73.92L314.42,72.65L316.46,72.56ZM320.53,72.03L321.24,73.94L323.29,74.03L321.69,75.31L322.23,77.27L320.53,76.15L318.82,77.27L319.37,75.31L317.77,74.03L319.81,73.94ZM323.88,73.35L324.59,75.27L326.63,75.36L325.03,76.63L325.58,78.60L323.88,77.47L322.17,78.60L322.72,76.63L321.12,75.36L323.16,75.27ZM327.22,74.67L327.94,76.58L329.98,76.67L328.38,77.95L328.93,79.92L327.22,78.79L325.52,79.92L326.07,77.95L324.47,76.67L326.51,76.58ZM330.57,75.99L331.29,77.90L333.33,77.99L331.73,79.27L332.28,81.24L330.57,80.11L328.87,81.24L329.41,79.27L327.81,77.99L329.86,77.90ZM333.92,77.01L334.64,78.92L336.68,79.01L335.08,80.28L335.62,82.25L333.92,81.12L332.22,82.25L332.76,80.28L331.16,79.01L333.20,78.92ZM337.27,78.02L337.98,79.94L340.03,80.02L338.43,81.30L338.97,83.27L337.27,82.14L335.56,83.27L336.11,81.30L334.51,80.02L336.55,79.94ZM340.62,79.03L341.33,80.95L343.37,81.04L341.77,82.31L342.32,84.28L340.62,83.15L338.91,84.28L339.46,82.31L337.86,81.04L339.90,80.95ZM343.96,80.01L344.68,81.93L346.72,82.02L345.12,83.29L345.67,85.26L343.96,84.13L342.26,85.26L342.81,83.29L341.21,82.02L343.25,81.93ZM347.31,81.00L348.03,82.91L350.07,83.00L348.47,84.27L349.02,86.24L347.31,85.11L345.61,86.24L346.15,84.27L344.55,83.00L346.60,82.91ZM350.66,81.99L351.38,83.90L353.42,83.99L351.82,85.26L352.36,87.23L350.66,86.10L348.96,87.23L349.50,85.26L347.90,83.99L349.94,83.90ZM354.01,83.09L354.72,85.01L356.77,85.10L355.17,86.37L355.71,88.34L354.01,87.21L352.30,88.34L352.85,86.37L351.25,85.10L353.29,85.01ZM357.36,84.20L358.07,86.11L360.11,86.20L358.51,87.47L359.06,89.44L357.36,88.31L355.65,89.44L356.20,87.47L354.60,86.20L356.64,86.11ZM360.70,85.30L361.42,87.22L363.46,87.31L361.86,88.58L362.41,90.55L360.70,89.42L359.00,90.55L359.55,88.58L357.95,87.31L359.99,87.22ZM364.05,85.98L364.77,87.89L366.81,87.98L365.21,89.26L365.76,91.23L364.05,90.10L362.35,91.23L362.89,89.26L361.29,87.98L363.34,87.89ZM367.40,86.62L368.12,88.53L370.16,88.62L368.56,89.89L369.10,91.86L367.40,90.73L365.70,91.86L366.24,89.89L364.64,88.62L366.68,88.53ZM370.75,87.25L371.46,89.17L373.51,89.26L371.91,90.53L372.45,92.50L370.75,91.37L369.04,92.50L369.59,90.53L367.99,89.26L370.03,89.17ZM374.10,88.07L374.81,89.99L376.85,90.08L375.25,91.35L375.80,93.32L374.10,92.19L372.39,93.32L372.94,91.35L371.34,90.08L373.38,89.99ZM377.44,88.91L378.16,90.83L380.20,90.91L378.60,92.19L379.15,94.16L377.44,93.03L375.74,94.16L376.29,92.19L374.69,90.91L376.73,90.83ZM380.79,89.73L381.51,91.64L383.55,91.73L381.95,93.01L382.50,94.98L380.79,93.85L379.09,94.98L379.63,93.01L378.03,91.73L380.08,91.64ZM384.14,90.47L384.86,92.38L386.90,92.47L385.30,93.74L385.84,95.71L384.14,94.58L382.44,95.71L382.98,93.74L381.38,92.47L383.42,92.38ZM387.49,91.20L388.20,93.12L390.25,93.21L388.65,94.48L389.19,96.45L387.49,95.32L385.78,96.45L386.33,94.48L384.73,93.21L386.77,93.12ZM390.84,91.92L391.55,93.83L393.59,93.92L391.99,95.20L392.54,97.17L390.84,96.04L389.13,97.17L389.68,95.20L388.08,93.92L390.12,93.83ZM394.18,92.55L394.90,94.46L396.94,94.55L395.34,95.83L395.89,97.80L394.18,96.67L392.48,97.80L393.03,95.83L391.43,94.55L393.47,94.46ZM397.53,93.18L398.25,95.09L400.29,95.18L398.69,96.46L399.24,98.43L397.53,97.30L395.83,98.43L396.37,96.46L394.77,95.18L396.82,95.09ZM400.88,93.86L401.60,95.77L403.64,95.86L402.04,97.13L402.58,99.10L400.88,97.97L399.18,99.10L399.72,97.13L398.12,95.86L400.16,95.77ZM404.23,94.76L404.94,96.68L406.99,96.76L405.39,98.04L405.93,100.01L404.23,98.88L402.52,100.01L403.07,98.04L401.47,96.76L403.51,96.68ZM407.58,95.66L408.29,97.58L410.33,97.67L408.73,98.94L409.28,100.91L407.58,99.78L405.87,100.91L406.42,98.94L404.82,97.67L406.86,97.58ZM410.92,96.54L411.64,98.46L413.68,98.55L412.08,99.82L412.63,101.79L410.92,100.66L409.22,101.79L409.77,99.82L408.17,98.55L410.21,98.46ZM414.27,97.31L414.99,99.22L417.03,99.31L415.43,100.58L415.98,102.55L414.27,101.42L412.57,102.55L413.11,100.58L411.51,99.31L413.56,99.22Z" fill="#ff0000" stroke="#ff0000" stroke-width="0.6" stroke-linejoin="miter"/>
<path d="M283.70,75.58L287.05,74.92L290.40,74.27L293.74,73.70L297.09,73.14L300.44,72.58L303.79,72.12L307.14,71.68L310.48,71.24L313.83,72.13L317.18,73.18L320.53,74.25L323.88,75.26L327.22,76.28L330.57,77.29L333.92,77.74L337.27,78.18L340.62,78.61L343.96,78.81L347.31,79.01L350.66,79.22L354.01,79.51L357.36,79.79L360.70,80.07L364.05,80.56L367.40,81.06L370.75,81.56L374.10,82.34L377.44,83.14L380.79,84.01L384.14,85.22L387.49,86.42L390.84,87.53L394.18,88.23L397.53,88.92L400.88,89.67L404.23,90.68L407.58,91.68L410.92,92.75L414.27,94.10" fill="none" stroke="#0000ff" stroke-width="1.5" stroke-linejoin="round"/>
<path d="M283.70,72.68L284.42,74.60L286.46,74.69L284.86,75.96L285.40,77.93L283.70,76.80L282.00,77.93L282.54,75.96L280.94,74.69L282.98,74.60ZM287.05,72.02L287.76,73.94L289.81,74.03L288.21,75.30L288.75,77.27L287.05,76.14L285.34,77.27L285.89,75.30L284.29,74.03L286.33,73.94ZM290.40,71.37L291.11,73.28L293.15,73.37L291.55,74.64L292.10,76.61L290.40,75.49L288.69,76.61L289.24,74.64L287.64,73.37L289.68,73.28ZM293.74,70.80L294.46,72.72L296.50,72.81L294.90,74.08L295.45,76.05L293.74,74.92L292.04,76.05L292.59,74.08L290.99,72.81L293.03,72.72ZM297.09,70.24L297.81,72.16L299.85,72.24L298.25,73.52L298.80,75.49L297.09,74.36L295.39,75.49L295.93,73.52L294.33,72.24L296.38,72.16ZM300.44,69.68L301.16,71.59L303.20,71.68L301.60,72.95L302.14,74.92L300.44,73.80L298.74,74.92L299.28,72.95L297.68,71.68L299.72,71.59ZM303.79,69.22L304.50,71.14L306.55,71.22L304.95,72.50L305.49,74.47L303.79,73.34L302.08,74.47L302.63,72.50L301.03,71.22L303.07,71.14ZM307.14,68.78L307.85,70.70L309.89,70.78L308.29,72.06L308.84,74.03L307.14,72.90L305.43,74.03L305.98,72.06L304.38,70.78L306.42,70.70ZM310.48,68.34L311.20,70.26L313.24,70.35L311.64,71.62L312.19,73.59L310.48,72.46L308.78,73.59L309.33,71.62L307.73,70.35L309.77,70.26ZM313.83,69.23L314.55,71.15L316.59,71.24L314.99,72.51L315.54,74.48L313.83,73.35L312.13,74.48L312.67,72.51L311.07,71.24L313.12,71.15ZM317.18,70.28L317.90,72.19L319.94,72.28L318.34,73.55L318.88,75.52L317.18,74.39L315.48,75.52L316.02,73.55L314.42,72.28L316.46,72.19ZM320.53,71.35L321.24,73.26L323.29,73.35L321.69,74.62L322.23,76.59L320.53,75.46L318.82,76.59L319.37,74.62L317.77,73.35L319.81,73.26ZM323.88,72.36L324.59,74.28L326.63,74.37L325.03,75.64L325.58,77.61L323.88,76.48L322.17,77.61L322.72,75.64L321.12,74.37L323.16,74.28ZM327.22,73.38L327.94,75.29L329.98,75.38L328.38,76.65L328.93,78.62L327.22,77.49L325.52,78.62L326.07,76.65L324.47,75.38L326.51,75.29ZM330.57,74.39L331.29,76.31L333.33,76.40L331.73,77.67L332.28,79.64L330.57,78.51L328.87,79.64L329.41,77.67L327.81,76.40L329.86,76.31ZM333.92,74.84L334.64,76.75L336.68,76.84L335.08,78.11L335.62,80.08L333.92,78.95L332.22,80.08L332.76,78.11L331.16,76.84L333.20,76.75ZM337.27,75.28L337.98,77.19L340.03,77.28L338.43,78.55L338.97,80.52L337.27,79.39L335.56,80.52L336.11,78.55L334.51,77.28L336.55,77.19ZM340.62,75.71L341.33,77.62L343.37,77.71L341.77,78.98L342.32,80.95L340.62,79.83L338.91,80.95L339.46,78.98L337.86,77.71L339.90,77.62ZM343.96,75.91L344.68,77.82L346.72,77.91L345.12,79.19L345.67,81.16L343.96,80.03L342.26,81.16L342.81,79.19L341.21,77.91L343.25,77.82ZM347.31,76.11L348.03,78.03L350.07,78.12L348.47,79.39L349.02,81.36L347.31,80.23L345.61,81.36L346.15,79.39L344.55,78.12L346.60,78.03ZM350.66,76.32L351.38,78.24L353.42,78.33L351.82,79.60L352.36,81.57L350.66,80.44L348.96,81.57L349.50,79.60L347.90,78.33L349.94,78.24ZM354.01,76.61L354.72,78.52L356.77,78.61L355.17,79.88L355.71,81.85L354.01,80.72L352.30,81.85L352.85,79.88L351.25,78.61L353.29,78.52ZM357.36,76.89L358.07,78.81L360.11,78.89L358.51,80.17L359.06,82.14L357.36,81.01L355.65,82.14L356.20,80.17L354.60,78.89L356.64,78.81ZM360.70,77.17L361.42,79.09L363.46,79.18L361.86,80.45L362.41,82.42L360.70,81.29L359.00,82.42L359.55,80.45L357.95,79.18L359.99,79.09ZM364.05,77.66L364.77,79.57L366.81,79.66L365.21,80.93L365.76,82.90L364.05,81.78L362.35,82.90L362.89,80.93L361.29,79.66L363.34,79.57ZM367.40,78.16L368.12,80.07L370.16,80.16L368.56,81.44L369.10,83.41L367.40,82.28L365.70,83.41L366.24,81.44L364.64,80.16L366.68,80.07ZM370.75,78.66L371.46,80.58L373.51,80.67L371.91,81.94L372.45,83.91L370.75,82.78L369.04,83.91L369.59,81.94L367.99,80.67L370.03,80.58ZM374.10,79.44L374.81,81.35L376.85,81.44L375.25,82.72L375.80,84.69L374.10,83.56L372.39,84.69L372.94,82.72L371.34,81.44L373.38,81.35ZM377.44,80.24L378.16,82.16L380.20,82.24L378.60,83.52L379.15,85.49L377.44,84.36L375.74,85.49L376.29,83.52L374.69,82.24L376.73,82.16ZM380.79,81.11L381.51,83.03L383.55,83.12L381.95,84.39L382.50,86.36L380.79,85.23L379.09,86.36L379.63,84.39L378.03,83.12L380.08,83.03ZM384.14,82.32L384.86,84.23L386.90,84.32L385.30,85.59L385.84,87.56L384.14,86.44L382.44,87.56L382.98,85.59L381.38,84.32L383.42,84.23ZM387.49,83.52L388.20,85.44L390.25,85.53L388.65,86.80L389.19,88.77L387.49,87.64L385.78,88.77L386.33,86.80L384.73,85.53L386.77,85.44ZM390.84,84.63L391.55,86.55L393.59,86.64L391.99,87.91L392.54,89.88L390.84,88.75L389.13,89.88L389.68,87.91L388.08,86.64L390.12,86.55ZM394.18,85.33L394.90,87.24L396.94,87.33L395.34,88.60L395.89,90.57L394.18,89.45L392.48,90.57L393.03,88.60L391.43,87.33L393.47,87.24ZM397.53,86.02L398.25,87.94L400.29,88.03L398.69,89.30L399.24,91.27L397.53,90.14L395.83,91.27L396.37,89.30L394.77,88.03L396.82,87.94ZM400.88,86.77L401.60,88.69L403.64,88.78L402.04,90.05L402.58,92.02L400.88,90.89L399.18,92.02L399.72,90.05L398.12,88.78L400.16,88.69ZM404.23,87.78L404.94,89.69L406.99,89.78L405.39,91.05L405.93,93.02L404.23,91.90L402.52,93.02L403.07,91.05L401.47,89.78L403.51,89.69ZM407.58,88.78L408.29,90.70L410.33,90.79L408.73,92.06L409.28,94.03L407.58,92.90L405.87,94.03L406.42,92.06L404.82,90.79L406.86,90.70ZM410.92,89.85L411.64,91.77L413.68,91.86L412.08,93.13L412.63,95.10L410.92,93.97L409.22,95.10L409.77,93.13L408.17,91.86L410.21,91.77ZM414.27,91.20L414.99,93.12L417.03,93.21L415.43,94.48L415.98,96.45L414.27,95.32L412.57,96.45L413.11,94.48L411.51,93.21L413.56,93.12Z" fill="#0000ff" stroke="#0000ff" stroke-width="0.6" stroke-linejoin="miter"/>
<path d="M283.70,67.62V93.62M282.50,67.62H284.90M282.50,93.62H284.90M290.50,67.49V96.49M289.30,67.49H291.70M289.30,96.49H291.70M300.60,73.51V96.31M299.40,73.51H301.80M299.40,96.31H301.80M310.50,74.93V99.33M309.30,74.93H311.70M309.30,99.33H311.70M320.70,78.00V101.00M319.50,78.00H321.90M319.50,101.00H321.90M330.60,78.80V104.80M329.40,78.80H331.80M329.40,104.80H331.80M340.50,81.10V105.50M339.30,81.10H341.70M339.30,105.50H341.70M350.40,81.50V106.50M349.20,81.50H351.60M349.20,106.50H351.60M361.00,82.20V109.00M359.80,82.20H362.20M359.80,109.00H362.20M371.00,84.50V109.70M369.80,84.50H372.20M369.80,109.70H372.20M380.70,84.79V112.19M379.50,84.79H381.90M379.50,112.19H381.90M390.60,87.24V113.24M389.40,87.24H391.80M389.40,113.24H391.80M400.80,88.16V114.16M399.60,88.16H402.00M399.60,114.16H402.00M410.90,88.56V116.56M409.70,88.56H412.10M409.70,116.56H412.10" fill="none" stroke="#000000" stroke-width="1" stroke-opacity="0.32"/>
<path d="M283.70,48.62V80.62M282.50,48.62H284.90M282.50,80.62H284.90M290.50,49.96V81.96M289.30,49.96H291.70M289.30,81.96H291.70M300.60,53.14V83.14M299.40,53.14H301.80M299.40,83.14H301.80M310.50,56.82V84.82M309.30,56.82H311.70M309.30,84.82H311.70M320.70,60.00V90.00M319.50,60.00H321.90M319.50,90.00H321.90M330.60,63.30V94.50M329.40,63.30H331.80M329.40,94.50H331.80M340.50,65.90V97.90M339.30,65.90H341.70M339.30,97.90H341.70M350.40,67.00V102.60M349.20,67.00H351.60M349.20,102.60H351.60M361.00,71.30V105.30M359.80,71.30H362.20M359.80,105.30H362.20M371.00,73.20V107.20M369.80,73.20H372.20M369.80,107.20H372.20M380.70,75.61V109.61M379.50,75.61H381.90M379.50,109.61H381.90M390.60,77.38V112.18M389.40,77.38H391.80M389.40,112.18H391.80M400.80,78.53V114.94M399.60,78.53H402.00M399.60,114.94H402.00M410.90,82.44V116.44M409.70,82.44H412.10M409.70,116.44H412.10" fill="none" stroke="#ff0000" stroke-width="1" stroke-opacity="0.42"/>
<path d="M283.70,56.08V95.08M282.50,56.08H284.90M282.50,95.08H284.90M290.50,53.25V95.25M289.30,53.25H291.70M289.30,95.25H291.70M300.60,52.55V92.55M299.40,52.55H301.80M299.40,92.55H301.80M310.50,49.24V93.24M309.30,49.24H311.70M309.30,93.24H311.70M320.70,54.50V94.10M319.50,54.50H321.90M319.50,94.10H321.90M330.60,57.50V97.10M329.40,57.50H331.80M329.40,97.10H331.80M340.50,60.80V96.40M339.30,60.80H341.70M339.30,96.40H341.70M350.40,60.90V97.50M349.20,60.90H351.60M349.20,97.50H351.60M361.00,63.30V96.90M359.80,63.30H362.20M359.80,96.90H362.20M371.00,63.30V99.90M369.80,63.30H372.20M369.80,99.90H372.20M380.70,67.18V100.78M379.50,67.18H381.90M379.50,100.78H381.90M390.60,70.68V104.28M389.40,70.68H391.80M389.40,104.28H391.80M400.80,77.85V101.45M399.60,77.85H402.00M399.60,101.45H402.00M410.90,82.64V102.84M409.70,82.64H412.10M409.70,102.84H412.10" fill="none" stroke="#0000ff" stroke-width="1" stroke-opacity="0.52"/>
<path d="M275.5,14.5H422.5" fill="none" stroke="#7a7a7a" stroke-width="1" stroke-linecap="square"/>
<path d="M422.5,14.5V133.5" fill="none" stroke="#999999" stroke-width="1" stroke-linecap="square"/>
<path d="M275.5,14.5V133.5" fill="none" stroke="#555" stroke-width="1" stroke-linecap="square"/>
<path d="M275.5,133.5H422.5" fill="none" stroke="#555" stroke-width="1" stroke-linecap="square"/>
<line x1="275.5" y1="14.5" x2="278.0" y2="14.5" stroke="#555555" stroke-width="1" />
<text x="270.8" y="17.10" font-size="9.9" text-anchor="end" fill="#222222" textLength="19.20" lengthAdjust="spacingAndGlyphs">0.30</text>
<line x1="275.5" y1="74" x2="278.0" y2="74" stroke="#555555" stroke-width="1" />
<text x="270.8" y="76.60" font-size="9.9" text-anchor="end" fill="#222222" textLength="18.75" lengthAdjust="spacingAndGlyphs">0.24</text>
<line x1="275.5" y1="133.5" x2="278.0" y2="133.5" stroke="#555555" stroke-width="1" />
<text x="270.8" y="136.10" font-size="9.9" text-anchor="end" fill="#222222" textLength="18.00" lengthAdjust="spacingAndGlyphs">0.18</text>
<line x1="283.5" y1="133.5" x2="283.5" y2="131.0" stroke="#555555" stroke-width="1" />
<text x="283.50" y="145.3" font-size="9.9" text-anchor="middle" fill="#222222" textLength="5.70" lengthAdjust="spacingAndGlyphs">0</text>
<line x1="311.4" y1="133.5" x2="311.4" y2="131.0" stroke="#555555" stroke-width="1" />
<text x="311.40" y="145.3" font-size="9.9" text-anchor="middle" fill="#222222" textLength="15.60" lengthAdjust="spacingAndGlyphs">100</text>
<line x1="339.3" y1="133.5" x2="339.3" y2="131.0" stroke="#555555" stroke-width="1" />
<text x="339.30" y="145.3" font-size="9.9" text-anchor="middle" fill="#222222" textLength="16.60" lengthAdjust="spacingAndGlyphs">200</text>
<line x1="367.2" y1="133.5" x2="367.2" y2="131.0" stroke="#555555" stroke-width="1" />
<text x="367.20" y="145.3" font-size="9.9" text-anchor="middle" fill="#222222" textLength="16.70" lengthAdjust="spacingAndGlyphs">300</text>
<line x1="395.1" y1="133.5" x2="395.1" y2="131.0" stroke="#555555" stroke-width="1" />
<text x="395.10" y="145.3" font-size="9.9" text-anchor="middle" fill="#222222" textLength="16.75" lengthAdjust="spacingAndGlyphs">400</text>
<text x="423.00" y="145.3" font-size="9.9" text-anchor="middle" fill="#222222" textLength="17.10" lengthAdjust="spacingAndGlyphs">500</text>
<text x="349.00" y="160.0" font-size="10" text-anchor="middle" fill="#222222" font-weight="normal" letter-spacing="0.15" >Time (h)</text>
<line x1="352.5" y1="25" x2="365.2" y2="25" stroke="#000000" stroke-width="2.2" />
<path d="M358.85,22.00L359.59,23.98L361.70,24.07L360.05,25.39L360.61,27.43L358.85,26.26L357.09,27.43L357.65,25.39L356.00,24.07L358.11,23.98Z" fill="#000000" stroke="#000000" stroke-width="0.4"/>
<text x="371.3" y="28.10" font-size="9" text-anchor="start" fill="#222222" font-weight="normal" >Persimmon</text>
<line x1="352.5" y1="38.5" x2="365.2" y2="38.5" stroke="#ff0000" stroke-width="2.2" />
<path d="M358.85,35.50L359.59,37.48L361.70,37.57L360.05,38.89L360.61,40.93L358.85,39.76L357.09,40.93L357.65,38.89L356.00,37.57L358.11,37.48Z" fill="#ff0000" stroke="#ff0000" stroke-width="0.4"/>
<text x="371.3" y="41.60" font-size="9" text-anchor="start" fill="#222222" font-weight="normal" >Pear</text>
<line x1="352.5" y1="52" x2="365.2" y2="52" stroke="#0000ff" stroke-width="2.2" />
<path d="M358.85,49.00L359.59,50.98L361.70,51.07L360.05,52.39L360.61,54.43L358.85,53.26L357.09,54.43L357.65,52.39L356.00,51.07L358.11,50.98Z" fill="#0000ff" stroke="#0000ff" stroke-width="0.4"/>
<text x="371.3" y="55.10" font-size="9" text-anchor="start" fill="#222222" font-weight="normal" >Mango</text>
<text x="282.5" y="108" font-size="8.8" text-anchor="start" fill="#222222" font-weight="normal" >Mean</text>
<line x1="293" y1="110.5" x2="293" y2="118.5" stroke="#111" stroke-width="1" />
<path d="M290.8,116.5L295.2,116.5L293,120.5Z" fill="#111"/>
<path d="M279.5,125.3H305.8M279.5,121.89999999999999V128.7M305.8,121.89999999999999V128.7" stroke="#55c055" stroke-width="1" fill="none"/>
<path d="M293.00,121.90L293.84,124.14L296.23,124.25L294.36,125.74L295.00,128.05L293.00,126.73L291.00,128.05L291.64,125.74L289.77,124.25L292.16,124.14Z" fill="#00a000" stroke="#00a000" stroke-width="0.5"/>
<text x="310.8" y="127.70" font-size="8.8" text-anchor="start" fill="#222222" font-weight="normal" textLength="10.6" lengthAdjust="spacingAndGlyphs">SD</text>
<text x="331.3" y="127.70" font-size="8.8" text-anchor="start" fill="#222222" font-weight="normal" textLength="52.2" lengthAdjust="spacingAndGlyphs">Samples = 10</text>
<text transform="translate(241.4,73.4) rotate(-90)" font-size="9.7" text-anchor="middle" fill="#222222"><tspan font-style="italic">f</tspan><tspan font-size="6.8" dy="2.2">PP</tspan><tspan dy="-2.2"> (THz)</tspan></text>
<path d="M513.60,101.30L516.94,101.30L520.28,101.30L523.63,100.21L526.97,99.01L530.31,97.68L533.65,96.34L536.99,95.29L540.34,94.46L543.68,93.82L547.02,93.19L550.36,92.56L553.70,91.69L557.05,90.79L560.39,89.81L563.73,88.13L567.07,86.46L570.41,84.87L573.76,83.63L577.10,82.39L580.44,81.15L583.78,79.88L587.12,78.62L590.47,77.51L593.81,76.68L597.15,75.86L600.49,74.84L603.83,73.57L607.18,72.31L610.52,71.70L613.86,71.70L617.20,71.70L620.54,71.20L623.89,70.38L627.23,69.56L630.57,68.43L633.91,67.16L637.25,65.88L640.60,64.64L643.94,63.39" fill="none" stroke="#000000" stroke-width="1.5" stroke-linejoin="round"/>
<path d="M513.60,98.40L514.32,100.31L516.36,100.40L514.76,101.68L515.30,103.65L513.60,102.52L511.90,103.65L512.44,101.68L510.84,100.40L512.88,100.31ZM516.94,98.40L517.66,100.31L519.70,100.40L518.10,101.68L518.65,103.65L516.94,102.52L515.24,103.65L515.78,101.68L514.18,100.40L516.23,100.31ZM520.28,98.40L521.00,100.31L523.04,100.40L521.44,101.68L521.99,103.65L520.28,102.52L518.58,103.65L519.13,101.68L517.53,100.40L519.57,100.31ZM523.63,97.31L524.34,99.23L526.38,99.32L524.78,100.59L525.33,102.56L523.63,101.43L521.92,102.56L522.47,100.59L520.87,99.32L522.91,99.23ZM526.97,96.11L527.68,98.03L529.73,98.12L528.13,99.39L528.67,101.36L526.97,100.23L525.26,101.36L525.81,99.39L524.21,98.12L526.25,98.03ZM530.31,94.78L531.03,96.69L533.07,96.78L531.47,98.05L532.01,100.02L530.31,98.89L528.61,100.02L529.15,98.05L527.55,96.78L529.59,96.69ZM533.65,93.44L534.37,95.35L536.41,95.44L534.81,96.72L535.36,98.69L533.65,97.56L531.95,98.69L532.49,96.72L530.89,95.44L532.94,95.35ZM536.99,92.39L537.71,94.31L539.75,94.40L538.15,95.67L538.70,97.64L536.99,96.51L535.29,97.64L535.84,95.67L534.24,94.40L536.28,94.31ZM540.34,91.56L541.05,93.47L543.09,93.56L541.49,94.83L542.04,96.80L540.34,95.67L538.63,96.80L539.18,94.83L537.58,93.56L539.62,93.47ZM543.68,90.92L544.39,92.84L546.44,92.93L544.84,94.20L545.38,96.17L543.68,95.04L541.97,96.17L542.52,94.20L540.92,92.93L542.96,92.84ZM547.02,90.29L547.74,92.21L549.78,92.30L548.18,93.57L548.72,95.54L547.02,94.41L545.32,95.54L545.86,93.57L544.26,92.30L546.30,92.21ZM550.36,89.66L551.08,91.58L553.12,91.67L551.52,92.94L552.07,94.91L550.36,93.78L548.66,94.91L549.20,92.94L547.60,91.67L549.65,91.58ZM553.70,88.79L554.42,90.71L556.46,90.80L554.86,92.07L555.41,94.04L553.70,92.91L552.00,94.04L552.55,92.07L550.95,90.80L552.99,90.71ZM557.05,87.89L557.76,89.81L559.80,89.90L558.20,91.17L558.75,93.14L557.05,92.01L555.34,93.14L555.89,91.17L554.29,89.90L556.33,89.81ZM560.39,86.91L561.10,88.82L563.15,88.91L561.55,90.18L562.09,92.15L560.39,91.02L558.68,92.15L559.23,90.18L557.63,88.91L559.67,88.82ZM563.73,85.23L564.45,87.15L566.49,87.24L564.89,88.51L565.43,90.48L563.73,89.35L562.03,90.48L562.57,88.51L560.97,87.24L563.01,87.15ZM567.07,83.56L567.79,85.48L569.83,85.57L568.23,86.84L568.78,88.81L567.07,87.68L565.37,88.81L565.91,86.84L564.31,85.57L566.36,85.48ZM570.41,81.97L571.13,83.89L573.17,83.98L571.57,85.25L572.12,87.22L570.41,86.09L568.71,87.22L569.26,85.25L567.66,83.98L569.70,83.89ZM573.76,80.73L574.47,82.65L576.51,82.74L574.91,84.01L575.46,85.98L573.76,84.85L572.05,85.98L572.60,84.01L571.00,82.74L573.04,82.65ZM577.10,79.49L577.81,81.41L579.86,81.50L578.26,82.77L578.80,84.74L577.10,83.61L575.39,84.74L575.94,82.77L574.34,81.50L576.38,81.41ZM580.44,78.25L581.16,80.16L583.20,80.25L581.60,81.52L582.14,83.49L580.44,82.36L578.74,83.49L579.28,81.52L577.68,80.25L579.72,80.16ZM583.78,76.98L584.50,78.90L586.54,78.99L584.94,80.26L585.49,82.23L583.78,81.10L582.08,82.23L582.62,80.26L581.02,78.99L583.07,78.90ZM587.12,75.72L587.84,77.64L589.88,77.73L588.28,79.00L588.83,80.97L587.12,79.84L585.42,80.97L585.97,79.00L584.37,77.73L586.41,77.64ZM590.47,74.61L591.18,76.53L593.22,76.62L591.62,77.89L592.17,79.86L590.47,78.73L588.76,79.86L589.31,77.89L587.71,76.62L589.75,76.53ZM593.81,73.78L594.52,75.70L596.57,75.79L594.97,77.06L595.51,79.03L593.81,77.90L592.10,79.03L592.65,77.06L591.05,75.79L593.09,75.70ZM597.15,72.96L597.87,74.87L599.91,74.96L598.31,76.23L598.85,78.20L597.15,77.08L595.45,78.20L595.99,76.23L594.39,74.96L596.43,74.87ZM600.49,71.94L601.21,73.85L603.25,73.94L601.65,75.21L602.20,77.18L600.49,76.05L598.79,77.18L599.33,75.21L597.73,73.94L599.78,73.85ZM603.83,70.67L604.55,72.59L606.59,72.68L604.99,73.95L605.54,75.92L603.83,74.79L602.13,75.92L602.68,73.95L601.08,72.68L603.12,72.59ZM607.18,69.41L607.89,71.33L609.93,71.42L608.33,72.69L608.88,74.66L607.18,73.53L605.47,74.66L606.02,72.69L604.42,71.42L606.46,71.33ZM610.52,68.80L611.23,70.71L613.28,70.80L611.68,72.08L612.22,74.05L610.52,72.92L608.81,74.05L609.36,72.08L607.76,70.80L609.80,70.71ZM613.86,68.80L614.58,70.71L616.62,70.80L615.02,72.08L615.56,74.05L613.86,72.92L612.16,74.05L612.70,72.08L611.10,70.80L613.14,70.71ZM617.20,68.80L617.92,70.71L619.96,70.80L618.36,72.08L618.91,74.05L617.20,72.92L615.50,74.05L616.04,72.08L614.44,70.80L616.49,70.71ZM620.54,68.30L621.26,70.21L623.30,70.30L621.70,71.58L622.25,73.55L620.54,72.42L618.84,73.55L619.39,71.58L617.79,70.30L619.83,70.21ZM623.89,67.48L624.60,69.40L626.64,69.48L625.04,70.76L625.59,72.73L623.89,71.60L622.18,72.73L622.73,70.76L621.13,69.48L623.17,69.40ZM627.23,66.66L627.94,68.58L629.99,68.67L628.39,69.94L628.93,71.91L627.23,70.78L625.52,71.91L626.07,69.94L624.47,68.67L626.51,68.58ZM630.57,65.53L631.29,67.45L633.33,67.54L631.73,68.81L632.27,70.78L630.57,69.65L628.87,70.78L629.41,68.81L627.81,67.54L629.85,67.45ZM633.91,64.26L634.63,66.17L636.67,66.26L635.07,67.54L635.62,69.51L633.91,68.38L632.21,69.51L632.75,67.54L631.15,66.26L633.20,66.17ZM637.25,62.98L637.97,64.90L640.01,64.99L638.41,66.26L638.96,68.23L637.25,67.10L635.55,68.23L636.10,66.26L634.50,64.99L636.54,64.90ZM640.60,61.74L641.31,63.65L643.35,63.74L641.75,65.01L642.30,66.98L640.60,65.85L638.89,66.98L639.44,65.01L637.84,63.74L639.88,63.65ZM643.94,60.49L644.65,62.41L646.70,62.50L645.10,63.77L645.64,65.74L643.94,64.61L642.23,65.74L642.78,63.77L641.18,62.50L643.22,62.41Z" fill="#000000" stroke="#000000" stroke-width="0.6" stroke-linejoin="miter"/>
<path d="M513.60,98.62L516.94,98.90L520.28,99.17L523.63,98.95L526.97,98.68L530.31,98.41L533.65,97.66L536.99,96.90L540.34,96.16L543.68,95.56L547.02,94.96L550.36,94.36L553.70,93.69L557.05,93.00L560.39,92.21L563.73,90.57L567.07,88.94L570.41,87.37L573.76,86.09L577.10,84.82L580.44,83.55L583.78,82.28L587.12,81.02L590.47,79.77L593.81,78.53L597.15,77.29L600.49,75.11L603.83,71.77L607.18,68.42L610.52,65.95L613.86,64.30L617.20,62.64L620.54,60.96L623.89,59.25L627.23,57.55L630.57,55.88L633.91,54.22L637.25,52.57L640.60,50.75L643.94,48.89" fill="none" stroke="#ff0000" stroke-width="1.5" stroke-linejoin="round"/>
<path d="M513.60,95.72L514.32,97.64L516.36,97.73L514.76,99.00L515.30,100.97L513.60,99.84L511.90,100.97L512.44,99.00L510.84,97.73L512.88,97.64ZM516.94,96.00L517.66,97.91L519.70,98.00L518.10,99.28L518.65,101.25L516.94,100.12L515.24,101.25L515.78,99.28L514.18,98.00L516.23,97.91ZM520.28,96.27L521.00,98.19L523.04,98.28L521.44,99.55L521.99,101.52L520.28,100.39L518.58,101.52L519.13,99.55L517.53,98.28L519.57,98.19ZM523.63,96.05L524.34,97.97L526.38,98.06L524.78,99.33L525.33,101.30L523.63,100.17L521.92,101.30L522.47,99.33L520.87,98.06L522.91,97.97ZM526.97,95.78L527.68,97.69L529.73,97.78L528.13,99.06L528.67,101.03L526.97,99.90L525.26,101.03L525.81,99.06L524.21,97.78L526.25,97.69ZM530.31,95.51L531.03,97.42L533.07,97.51L531.47,98.78L532.01,100.75L530.31,99.63L528.61,100.75L529.15,98.78L527.55,97.51L529.59,97.42ZM533.65,94.76L534.37,96.68L536.41,96.77L534.81,98.04L535.36,100.01L533.65,98.88L531.95,100.01L532.49,98.04L530.89,96.77L532.94,96.68ZM536.99,94.00L537.71,95.92L539.75,96.01L538.15,97.28L538.70,99.25L536.99,98.12L535.29,99.25L535.84,97.28L534.24,96.01L536.28,95.92ZM540.34,93.26L541.05,95.17L543.09,95.26L541.49,96.53L542.04,98.50L540.34,97.38L538.63,98.50L539.18,96.53L537.58,95.26L539.62,95.17ZM543.68,92.66L544.39,94.57L546.44,94.66L544.84,95.94L545.38,97.90L543.68,96.78L541.97,97.90L542.52,95.94L540.92,94.66L542.96,94.57ZM547.02,92.06L547.74,93.97L549.78,94.06L548.18,95.34L548.72,97.31L547.02,96.18L545.32,97.31L545.86,95.34L544.26,94.06L546.30,93.97ZM550.36,91.46L551.08,93.38L553.12,93.46L551.52,94.74L552.07,96.71L550.36,95.58L548.66,96.71L549.20,94.74L547.60,93.46L549.65,93.38ZM553.70,90.79L554.42,92.70L556.46,92.79L554.86,94.06L555.41,96.03L553.70,94.90L552.00,96.03L552.55,94.06L550.95,92.79L552.99,92.70ZM557.05,90.10L557.76,92.02L559.80,92.11L558.20,93.38L558.75,95.35L557.05,94.22L555.34,95.35L555.89,93.38L554.29,92.11L556.33,92.02ZM560.39,89.31L561.10,91.22L563.15,91.31L561.55,92.59L562.09,94.56L560.39,93.43L558.68,94.56L559.23,92.59L557.63,91.31L559.67,91.22ZM563.73,87.67L564.45,89.59L566.49,89.68L564.89,90.95L565.43,92.92L563.73,91.79L562.03,92.92L562.57,90.95L560.97,89.68L563.01,89.59ZM567.07,86.04L567.79,87.95L569.83,88.04L568.23,89.31L568.78,91.28L567.07,90.15L565.37,91.28L565.91,89.31L564.31,88.04L566.36,87.95ZM570.41,84.47L571.13,86.38L573.17,86.47L571.57,87.74L572.12,89.71L570.41,88.58L568.71,89.71L569.26,87.74L567.66,86.47L569.70,86.38ZM573.76,83.19L574.47,85.11L576.51,85.19L574.91,86.47L575.46,88.44L573.76,87.31L572.05,88.44L572.60,86.47L571.00,85.19L573.04,85.11ZM577.10,81.92L577.81,83.83L579.86,83.92L578.26,85.19L578.80,87.16L577.10,86.03L575.39,87.16L575.94,85.19L574.34,83.92L576.38,83.83ZM580.44,80.65L581.16,82.56L583.20,82.65L581.60,83.92L582.14,85.89L580.44,84.76L578.74,85.89L579.28,83.92L577.68,82.65L579.72,82.56ZM583.78,79.38L584.50,81.30L586.54,81.39L584.94,82.66L585.49,84.63L583.78,83.50L582.08,84.63L582.62,82.66L581.02,81.39L583.07,81.30ZM587.12,78.12L587.84,80.04L589.88,80.13L588.28,81.40L588.83,83.37L587.12,82.24L585.42,83.37L585.97,81.40L584.37,80.13L586.41,80.04ZM590.47,76.87L591.18,78.78L593.22,78.87L591.62,80.14L592.17,82.11L590.47,80.99L588.76,82.11L589.31,80.14L587.71,78.87L589.75,78.78ZM593.81,75.63L594.52,77.54L596.57,77.63L594.97,78.90L595.51,80.87L593.81,79.74L592.10,80.87L592.65,78.90L591.05,77.63L593.09,77.54ZM597.15,74.39L597.87,76.30L599.91,76.39L598.31,77.66L598.85,79.63L597.15,78.50L595.45,79.63L595.99,77.66L594.39,76.39L596.43,76.30ZM600.49,72.21L601.21,74.12L603.25,74.21L601.65,75.48L602.20,77.45L600.49,76.33L598.79,77.45L599.33,75.48L597.73,74.21L599.78,74.12ZM603.83,68.87L604.55,70.78L606.59,70.87L604.99,72.14L605.54,74.11L603.83,72.98L602.13,74.11L602.68,72.14L601.08,70.87L603.12,70.78ZM607.18,65.52L607.89,67.44L609.93,67.53L608.33,68.80L608.88,70.77L607.18,69.64L605.47,70.77L606.02,68.80L604.42,67.53L606.46,67.44ZM610.52,63.05L611.23,64.96L613.28,65.05L611.68,66.33L612.22,68.30L610.52,67.17L608.81,68.30L609.36,66.33L607.76,65.05L609.80,64.96ZM613.86,61.40L614.58,63.31L616.62,63.40L615.02,64.67L615.56,66.64L613.86,65.51L612.16,66.64L612.70,64.67L611.10,63.40L613.14,63.31ZM617.20,59.74L617.92,61.66L619.96,61.75L618.36,63.02L618.91,64.99L617.20,63.86L615.50,64.99L616.04,63.02L614.44,61.75L616.49,61.66ZM620.54,58.06L621.26,59.97L623.30,60.06L621.70,61.33L622.25,63.30L620.54,62.18L618.84,63.30L619.39,61.33L617.79,60.06L619.83,59.97ZM623.89,56.35L624.60,58.27L626.64,58.36L625.04,59.63L625.59,61.60L623.89,60.47L622.18,61.60L622.73,59.63L621.13,58.36L623.17,58.27ZM627.23,54.65L627.94,56.56L629.99,56.65L628.39,57.92L628.93,59.89L627.23,58.76L625.52,59.89L626.07,57.92L624.47,56.65L626.51,56.56ZM630.57,52.98L631.29,54.89L633.33,54.98L631.73,56.25L632.27,58.22L630.57,57.09L628.87,58.22L629.41,56.25L627.81,54.98L629.85,54.89ZM633.91,51.32L634.63,53.24L636.67,53.33L635.07,54.60L635.62,56.57L633.91,55.44L632.21,56.57L632.75,54.60L631.15,53.33L633.20,53.24ZM637.25,49.67L637.97,51.58L640.01,51.67L638.41,52.95L638.96,54.92L637.25,53.79L635.55,54.92L636.10,52.95L634.50,51.67L636.54,51.58ZM640.60,47.85L641.31,49.77L643.35,49.86L641.75,51.13L642.30,53.10L640.60,51.97L638.89,53.10L639.44,51.13L637.84,49.86L639.88,49.77ZM643.94,45.99L644.65,47.91L646.70,48.00L645.10,49.27L645.64,51.24L643.94,50.11L642.23,51.24L642.78,49.27L641.18,48.00L643.22,47.91Z" fill="#ff0000" stroke="#ff0000" stroke-width="0.6" stroke-linejoin="miter"/>
<path d="M513.60,114.80L516.94,111.46L520.28,109.16L523.63,107.65L526.97,106.83L530.31,106.02L533.65,105.36L536.99,104.71L540.34,104.05L543.68,103.39L547.02,102.73L550.36,102.07L553.70,101.29L557.05,100.50L560.39,99.70L563.73,98.85L567.07,98.00L570.41,97.15L573.76,96.32L577.10,95.49L580.44,94.66L583.78,93.81L587.12,92.96L590.47,91.97L593.81,90.73L597.15,89.49L600.49,88.05L603.83,86.38L607.18,84.71L610.52,83.24L613.86,81.97L617.20,80.70L620.54,79.45L623.89,78.22L627.23,76.99L630.57,75.73L633.91,74.46L637.25,73.18L640.60,71.45L643.94,69.59" fill="none" stroke="#0000ff" stroke-width="1.5" stroke-linejoin="round"/>
<path d="M513.60,111.90L514.32,113.81L516.36,113.90L514.76,115.18L515.30,117.15L513.60,116.02L511.90,117.15L512.44,115.18L510.84,113.90L512.88,113.81ZM516.94,108.56L517.66,110.47L519.70,110.56L518.10,111.83L518.65,113.80L516.94,112.68L515.24,113.80L515.78,111.83L514.18,110.56L516.23,110.47ZM520.28,106.26L521.00,108.17L523.04,108.26L521.44,109.53L521.99,111.50L520.28,110.38L518.58,111.50L519.13,109.53L517.53,108.26L519.57,108.17ZM523.63,104.75L524.34,106.66L526.38,106.75L524.78,108.02L525.33,109.99L523.63,108.87L521.92,109.99L522.47,108.02L520.87,106.75L522.91,106.66ZM526.97,103.93L527.68,105.85L529.73,105.94L528.13,107.21L528.67,109.18L526.97,108.05L525.26,109.18L525.81,107.21L524.21,105.94L526.25,105.85ZM530.31,103.12L531.03,105.04L533.07,105.13L531.47,106.40L532.01,108.37L530.31,107.24L528.61,108.37L529.15,106.40L527.55,105.13L529.59,105.04ZM533.65,102.46L534.37,104.38L536.41,104.47L534.81,105.74L535.36,107.71L533.65,106.58L531.95,107.71L532.49,105.74L530.89,104.47L532.94,104.38ZM536.99,101.81L537.71,103.72L539.75,103.81L538.15,105.08L538.70,107.05L536.99,105.93L535.29,107.05L535.84,105.08L534.24,103.81L536.28,103.72ZM540.34,101.15L541.05,103.07L543.09,103.16L541.49,104.43L542.04,106.40L540.34,105.27L538.63,106.40L539.18,104.43L537.58,103.16L539.62,103.07ZM543.68,100.49L544.39,102.41L546.44,102.50L544.84,103.77L545.38,105.74L543.68,104.61L541.97,105.74L542.52,103.77L540.92,102.50L542.96,102.41ZM547.02,99.83L547.74,101.74L549.78,101.83L548.18,103.11L548.72,105.08L547.02,103.95L545.32,105.08L545.86,103.11L544.26,101.83L546.30,101.74ZM550.36,99.17L551.08,101.08L553.12,101.17L551.52,102.44L552.07,104.41L550.36,103.28L548.66,104.41L549.20,102.44L547.60,101.17L549.65,101.08ZM553.70,98.39L554.42,100.30L556.46,100.39L554.86,101.67L555.41,103.64L553.70,102.51L552.00,103.64L552.55,101.67L550.95,100.39L552.99,100.30ZM557.05,97.60L557.76,99.51L559.80,99.60L558.20,100.88L558.75,102.84L557.05,101.72L555.34,102.84L555.89,100.88L554.29,99.60L556.33,99.51ZM560.39,96.80L561.10,98.72L563.15,98.80L561.55,100.08L562.09,102.05L560.39,100.92L558.68,102.05L559.23,100.08L557.63,98.80L559.67,98.72ZM563.73,95.95L564.45,97.86L566.49,97.95L564.89,99.22L565.43,101.19L563.73,100.07L562.03,101.19L562.57,99.22L560.97,97.95L563.01,97.86ZM567.07,95.10L567.79,97.01L569.83,97.10L568.23,98.37L568.78,100.34L567.07,99.21L565.37,100.34L565.91,98.37L564.31,97.10L566.36,97.01ZM570.41,94.25L571.13,96.16L573.17,96.25L571.57,97.52L572.12,99.49L570.41,98.37L568.71,99.49L569.26,97.52L567.66,96.25L569.70,96.16ZM573.76,93.42L574.47,95.34L576.51,95.43L574.91,96.70L575.46,98.67L573.76,97.54L572.05,98.67L572.60,96.70L571.00,95.43L573.04,95.34ZM577.10,92.59L577.81,94.51L579.86,94.60L578.26,95.87L578.80,97.84L577.10,96.71L575.39,97.84L575.94,95.87L574.34,94.60L576.38,94.51ZM580.44,91.76L581.16,93.67L583.20,93.76L581.60,95.04L582.14,97.01L580.44,95.88L578.74,97.01L579.28,95.04L577.68,93.76L579.72,93.67ZM583.78,90.91L584.50,92.82L586.54,92.91L584.94,94.18L585.49,96.15L583.78,95.03L582.08,96.15L582.62,94.18L581.02,92.91L583.07,92.82ZM587.12,90.06L587.84,91.97L589.88,92.06L588.28,93.33L588.83,95.30L587.12,94.17L585.42,95.30L585.97,93.33L584.37,92.06L586.41,91.97ZM590.47,89.07L591.18,90.98L593.22,91.07L591.62,92.34L592.17,94.31L590.47,93.19L588.76,94.31L589.31,92.34L587.71,91.07L589.75,90.98ZM593.81,87.83L594.52,89.74L596.57,89.83L594.97,91.10L595.51,93.07L593.81,91.94L592.10,93.07L592.65,91.10L591.05,89.83L593.09,89.74ZM597.15,86.59L597.87,88.50L599.91,88.59L598.31,89.86L598.85,91.83L597.15,90.70L595.45,91.83L595.99,89.86L594.39,88.59L596.43,88.50ZM600.49,85.15L601.21,87.07L603.25,87.16L601.65,88.43L602.20,90.40L600.49,89.27L598.79,90.40L599.33,88.43L597.73,87.16L599.78,87.07ZM603.83,83.48L604.55,85.40L606.59,85.49L604.99,86.76L605.54,88.73L603.83,87.60L602.13,88.73L602.68,86.76L601.08,85.49L603.12,85.40ZM607.18,81.81L607.89,83.73L609.93,83.82L608.33,85.09L608.88,87.06L607.18,85.93L605.47,87.06L606.02,85.09L604.42,83.82L606.46,83.73ZM610.52,80.34L611.23,82.26L613.28,82.35L611.68,83.62L612.22,85.59L610.52,84.46L608.81,85.59L609.36,83.62L607.76,82.35L609.80,82.26ZM613.86,79.07L614.58,80.98L616.62,81.07L615.02,82.35L615.56,84.32L613.86,83.19L612.16,84.32L612.70,82.35L611.10,81.07L613.14,80.98ZM617.20,77.80L617.92,79.71L619.96,79.80L618.36,81.07L618.91,83.04L617.20,81.91L615.50,83.04L616.04,81.07L614.44,79.80L616.49,79.71ZM620.54,76.55L621.26,78.46L623.30,78.55L621.70,79.83L622.25,81.80L620.54,80.67L618.84,81.80L619.39,79.83L617.79,78.55L619.83,78.46ZM623.89,75.32L624.60,77.24L626.64,77.33L625.04,78.60L625.59,80.57L623.89,79.44L622.18,80.57L622.73,78.60L621.13,77.33L623.17,77.24ZM627.23,74.09L627.94,76.01L629.99,76.10L628.39,77.37L628.93,79.34L627.23,78.21L625.52,79.34L626.07,77.37L624.47,76.10L626.51,76.01ZM630.57,72.83L631.29,74.75L633.33,74.84L631.73,76.11L632.27,78.08L630.57,76.95L628.87,78.08L629.41,76.11L627.81,74.84L629.85,74.75ZM633.91,71.56L634.63,73.47L636.67,73.56L635.07,74.84L635.62,76.81L633.91,75.68L632.21,76.81L632.75,74.84L631.15,73.56L633.20,73.47ZM637.25,70.28L637.97,72.20L640.01,72.29L638.41,73.56L638.96,75.53L637.25,74.40L635.55,75.53L636.10,73.56L634.50,72.29L636.54,72.20ZM640.60,68.55L641.31,70.47L643.35,70.56L641.75,71.83L642.30,73.80L640.60,72.67L638.89,73.80L639.44,71.83L637.84,70.56L639.88,70.47ZM643.94,66.69L644.65,68.61L646.70,68.70L645.10,69.97L645.64,71.94L643.94,70.81L642.23,71.94L642.78,69.97L641.18,68.70L643.22,68.61Z" fill="#0000ff" stroke="#0000ff" stroke-width="0.6" stroke-linejoin="miter"/>
<path d="M513.50,97.30V105.30M512.30,97.30H514.70M512.30,105.30H514.70M520.50,97.30V105.30M519.30,97.30H521.70M519.30,105.30H521.70M530.20,93.72V101.72M529.00,93.72H531.40M529.00,101.72H531.40M540.20,89.48V99.48M539.00,89.48H541.40M539.00,99.48H541.40M550.20,87.59V97.59M549.00,87.59H551.40M549.00,97.59H551.40M560.30,83.85V95.85M559.10,83.85H561.50M559.10,95.85H561.50M570.50,77.84V91.84M569.30,77.84H571.70M569.30,91.84H571.70M580.50,73.12V89.12M579.30,73.12H581.70M579.30,89.12H581.70M590.30,67.55V87.55M589.10,67.55H591.50M589.10,87.55H591.50M600.40,60.87V88.87M599.20,60.87H601.60M599.20,88.87H601.60M610.40,52.70V90.70M609.20,52.70H611.60M609.20,90.70H611.60M620.30,47.26V95.26M619.10,47.26H621.50M619.10,95.26H621.50M630.20,42.58V94.58M629.00,42.58H631.40M629.00,94.58H631.40M640.50,35.67V93.67M639.30,35.67H641.70M639.30,93.67H641.70" fill="none" stroke="#000000" stroke-width="1" stroke-opacity="0.45"/>
<path d="M513.50,85.62V111.62M512.30,85.62H514.70M512.30,111.62H514.70M520.50,84.99V113.39M519.30,84.99H521.70M519.30,113.39H521.70M530.20,84.52V112.32M529.00,84.52H531.40M529.00,112.32H531.40M540.20,82.38V109.98M539.00,82.38H541.40M539.00,109.98H541.40M550.20,85.29V103.49M549.00,85.29H551.40M549.00,103.49H551.40M560.30,83.75V100.75M559.10,83.75H561.50M559.10,100.75H561.50M570.50,79.53V95.13M569.30,79.53H571.70M569.30,95.13H571.70M580.50,74.22V92.82M579.30,74.22H581.70M579.30,92.82H581.70M590.30,68.23V91.43M589.10,68.23H591.50M589.10,91.43H591.50M600.40,63.20V87.20M599.20,63.20H601.60M599.20,87.20H601.60M610.40,51.71V80.31M609.20,51.71H611.60M609.20,80.31H611.60M620.30,41.38V80.78M619.10,41.38H621.50M619.10,80.78H621.50M630.20,27.96V84.16M629.00,27.96H631.40M629.00,84.16H631.40M640.50,19.41V82.21M639.30,19.41H641.70M639.30,82.21H641.70" fill="none" stroke="#ff0000" stroke-width="1" stroke-opacity="0.5"/>
<path d="M513.50,102.80V127.00M512.30,102.80H514.70M512.30,127.00H514.70M520.50,93.45V124.65M519.30,93.45H521.70M519.30,124.65H521.70M530.20,92.25V119.85M529.00,92.25H531.40M529.00,119.85H531.40M540.20,88.28V119.88M539.00,88.28H541.40M539.00,119.88H541.40M550.20,86.00V118.20M549.00,86.00H551.40M549.00,118.20H551.40M560.30,86.72V112.72M559.10,86.72H561.50M559.10,112.72H561.50M570.50,86.03V108.23M569.30,86.03H571.70M569.30,108.23H571.70M580.50,80.94V108.34M579.30,80.94H581.70M579.30,108.34H581.70M590.30,83.73V100.33M589.10,83.73H591.50M589.10,100.33H591.50M600.40,80.90V95.30M599.20,80.90H601.60M599.20,95.30H601.60M610.40,71.29V95.29M609.20,71.29H611.60M609.20,95.29H611.60M620.30,62.04V97.04M619.10,62.04H621.50M619.10,97.04H621.50M630.20,57.88V93.88M629.00,57.88H631.40M629.00,93.88H631.40M640.50,53.21V89.81M639.30,53.21H641.70M639.30,89.81H641.70" fill="none" stroke="#0000ff" stroke-width="1" stroke-opacity="0.52"/>
<path d="M505.5,14.5H652.5" fill="none" stroke="#888888" stroke-width="1" stroke-linecap="square"/>
<path d="M652.5,14.5V133.5" fill="none" stroke="#7a7a7a" stroke-width="1" stroke-linecap="square"/>
<path d="M505.5,14.5V133.5" fill="none" stroke="#aaaaaa" stroke-width="1" stroke-linecap="square"/>
<path d="M505.5,133.5H652.5" fill="none" stroke="#555" stroke-width="1" stroke-linecap="square"/>
<line x1="505.5" y1="17.4" x2="508.0" y2="17.4" stroke="#555555" stroke-width="1" />
<text x="500.6" y="20.00" font-size="9.9" text-anchor="end" fill="#222222" textLength="5.70" lengthAdjust="spacingAndGlyphs">5</text>
<line x1="505.5" y1="51.6" x2="508.0" y2="51.6" stroke="#555555" stroke-width="1" />
<text x="500.6" y="54.20" font-size="9.9" text-anchor="end" fill="#222222" textLength="5.35" lengthAdjust="spacingAndGlyphs">4</text>
<line x1="505.5" y1="85.8" x2="508.0" y2="85.8" stroke="#555555" stroke-width="1" />
<text x="500.6" y="88.40" font-size="9.9" text-anchor="end" fill="#222222" textLength="5.30" lengthAdjust="spacingAndGlyphs">3</text>
<line x1="505.5" y1="120" x2="508.0" y2="120" stroke="#555555" stroke-width="1" />
<text x="500.6" y="122.60" font-size="9.9" text-anchor="end" fill="#222222" textLength="5.20" lengthAdjust="spacingAndGlyphs">2</text>
<line x1="513.4" y1="133.5" x2="513.4" y2="131.0" stroke="#555555" stroke-width="1" />
<text x="513.40" y="145.3" font-size="9.9" text-anchor="middle" fill="#222222" textLength="5.70" lengthAdjust="spacingAndGlyphs">0</text>
<line x1="541.25" y1="133.5" x2="541.25" y2="131.0" stroke="#555555" stroke-width="1" />
<text x="541.25" y="145.3" font-size="9.9" text-anchor="middle" fill="#222222" textLength="15.60" lengthAdjust="spacingAndGlyphs">100</text>
<line x1="569.1" y1="133.5" x2="569.1" y2="131.0" stroke="#555555" stroke-width="1" />
<text x="569.10" y="145.3" font-size="9.9" text-anchor="middle" fill="#222222" textLength="16.60" lengthAdjust="spacingAndGlyphs">200</text>
<line x1="596.95" y1="133.5" x2="596.95" y2="131.0" stroke="#555555" stroke-width="1" />
<text x="596.95" y="145.3" font-size="9.9" text-anchor="middle" fill="#222222" textLength="16.70" lengthAdjust="spacingAndGlyphs">300</text>
<line x1="624.8" y1="133.5" x2="624.8" y2="131.0" stroke="#555555" stroke-width="1" />
<text x="624.80" y="145.3" font-size="9.9" text-anchor="middle" fill="#222222" textLength="16.75" lengthAdjust="spacingAndGlyphs">400</text>
<text x="652.65" y="145.3" font-size="9.9" text-anchor="middle" fill="#222222" textLength="17.10" lengthAdjust="spacingAndGlyphs">500</text>
<text x="579.00" y="160.0" font-size="10" text-anchor="middle" fill="#222222" font-weight="normal" letter-spacing="0.15" >Time (h)</text>
<line x1="511.8" y1="26.6" x2="524.9" y2="26.6" stroke="#000000" stroke-width="2.2" />
<path d="M518.35,23.60L519.09,25.58L521.20,25.67L519.55,26.99L520.11,29.03L518.35,27.86L516.59,29.03L517.15,26.99L515.50,25.67L517.61,25.58Z" fill="#000000" stroke="#000000" stroke-width="0.4"/>
<text x="530.8" y="29.70" font-size="9" text-anchor="start" fill="#222222" font-weight="normal" >Persimmon</text>
<line x1="511.8" y1="40.1" x2="524.9" y2="40.1" stroke="#ff0000" stroke-width="2.2" />
<path d="M518.35,37.10L519.09,39.08L521.20,39.17L519.55,40.49L520.11,42.53L518.35,41.36L516.59,42.53L517.15,40.49L515.50,39.17L517.61,39.08Z" fill="#ff0000" stroke="#ff0000" stroke-width="0.4"/>
<text x="530.8" y="43.20" font-size="9" text-anchor="start" fill="#222222" font-weight="normal" >Pear</text>
<line x1="511.8" y1="53.3" x2="524.9" y2="53.3" stroke="#0000ff" stroke-width="2.2" />
<path d="M518.35,50.30L519.09,52.28L521.20,52.37L519.55,53.69L520.11,55.73L518.35,54.56L516.59,55.73L517.15,53.69L515.50,52.37L517.61,52.28Z" fill="#0000ff" stroke="#0000ff" stroke-width="0.4"/>
<text x="530.8" y="56.40" font-size="9" text-anchor="start" fill="#222222" font-weight="normal" >Mango</text>
<text x="607" y="107.4" font-size="8.8" text-anchor="start" fill="#222222" font-weight="normal" >Mean</text>
<line x1="617" y1="110.3" x2="617" y2="118.5" stroke="#111" stroke-width="1" />
<path d="M614.8,116.5L619.2,116.5L617,120.5Z" fill="#111"/>
<path d="M603.3,125H630M603.3,121.6V128.4M630,121.6V128.4" stroke="#55c055" stroke-width="1" fill="none"/>
<path d="M617.00,121.60L617.84,123.84L620.23,123.95L618.36,125.44L619.00,127.75L617.00,126.43L615.00,127.75L615.64,125.44L613.77,123.95L616.16,123.84Z" fill="#00a000" stroke="#00a000" stroke-width="0.5"/>
<text x="635" y="126.70" font-size="8.8" text-anchor="start" fill="#222222" font-weight="normal" textLength="10.6" lengthAdjust="spacingAndGlyphs">SD</text>
<text x="539.5" y="128.10" font-size="8.8" text-anchor="start" fill="#222222" font-weight="normal" textLength="52.2" lengthAdjust="spacingAndGlyphs">Samples = 10</text>
<text transform="translate(484.4,74) rotate(-90)" font-size="11.5" text-anchor="middle" fill="#222222"><tspan font-style="italic">n</tspan><tspan font-size="7.4" dy="2.6">Ex</tspan></text>
<path d="M50.70,258.80V286.50M49.60,258.80H51.80M49.60,286.50H51.80M57.80,253.20V283.25M56.70,253.20H58.90M56.70,283.25H58.90M67.70,248.50V279.50M66.60,248.50H68.80M66.60,279.50H68.80M77.90,242.00V273.30M76.80,242.00H79.00M76.80,273.30H79.00M87.80,237.30V270.60M86.70,237.30H88.90M86.70,270.60H88.90M97.60,233.25V268.20M96.50,233.25H98.70M96.50,268.20H98.70M107.70,226.50V263.50M106.60,226.50H108.80M106.60,263.50H108.80M118.00,228.20V266.50M116.90,228.20H119.10M116.90,266.50H119.10M127.90,220.20V259.50M126.80,220.20H129.00M126.80,259.50H129.00M137.80,214.00V257.00M136.70,214.00H138.90M136.70,257.00H138.90M147.90,208.00V247.50M146.80,208.00H149.00M146.80,247.50H149.00M158.20,206.30V246.10M157.10,206.30H159.30M157.10,246.10H159.30M168.40,200.90V243.60M167.30,200.90H169.50M167.30,243.60H169.50M178.30,193.00V230.40M177.20,193.00H179.40M177.20,230.40H179.40" fill="none" stroke="#8c8c8c" stroke-width="1" stroke-opacity="1.0"/>
<path d="M50.7,273.5L54,270.2L57.4,262.1L60.8,264.8L66.1,264.8L70.8,260.8L74.2,263.5L78.2,260.8L82.2,256.8L86.2,257.5L88.9,258.1L92.3,254.1L97.6,245.9L100,248.6L103.9,250.6L107.9,247.4L111,250.2L114.6,242.7L117.4,250.6L121.3,251L125.3,249.8L128.5,244.7L131.6,245.9L134,239.9L136,234.4L141.6,229.9L145.9,227.3L151,222.2L155.3,223.1L159.5,225.6L163,222.2L166.4,220.5L171.5,218.8L175.8,214.5L180.9,214.5" fill="none" stroke="#008000" stroke-width="2.7" stroke-linejoin="round"/>
<path d="M50.70,272.20L54.00,269.50L58.10,266.80L62.10,264.80L66.10,264.20L70.10,262.10L74.80,258.80L78.90,257.50L83.50,256.10L87.60,254.80L91.60,252.10L96.00,250.80L100.80,250.60L103.90,245.50L107.10,244.70L110.50,243.60L112.50,243.50L115.00,248.00L118.20,247.20L121.30,246.30L124.10,241.50L126.90,240.30L130.10,239.10L133.20,238.00L137.30,235.90L141.60,233.30L145.90,228.20L151.00,226.50L155.30,227.30L160.40,226.50L164.70,223.10L168.90,221.30L174.00,212.80L177.50,212.00L180.90,208.50" fill="none" stroke="#000000" stroke-width="0.9" stroke-linejoin="round"/>
<path d="M50.70,269.10L51.47,271.15L53.65,271.24L51.94,272.60L52.52,274.71L50.70,273.50L48.88,274.71L49.46,272.60L47.75,271.24L49.93,271.15ZM54.00,266.40L54.77,268.45L56.95,268.54L55.24,269.90L55.82,272.01L54.00,270.80L52.18,272.01L52.76,269.90L51.05,268.54L53.23,268.45ZM58.10,263.70L58.87,265.75L61.05,265.84L59.34,267.20L59.92,269.31L58.10,268.10L56.28,269.31L56.86,267.20L55.15,265.84L57.33,265.75ZM62.10,261.70L62.87,263.75L65.05,263.84L63.34,265.20L63.92,267.31L62.10,266.10L60.28,267.31L60.86,265.20L59.15,263.84L61.33,263.75ZM66.10,261.10L66.87,263.15L69.05,263.24L67.34,264.60L67.92,266.71L66.10,265.50L64.28,266.71L64.86,264.60L63.15,263.24L65.33,263.15ZM70.10,259.00L70.87,261.05L73.05,261.14L71.34,262.50L71.92,264.61L70.10,263.40L68.28,264.61L68.86,262.50L67.15,261.14L69.33,261.05ZM74.80,255.70L75.57,257.75L77.75,257.84L76.04,259.20L76.62,261.31L74.80,260.10L72.98,261.31L73.56,259.20L71.85,257.84L74.03,257.75ZM78.90,254.40L79.67,256.45L81.85,256.54L80.14,257.90L80.72,260.01L78.90,258.80L77.08,260.01L77.66,257.90L75.95,256.54L78.13,256.45ZM83.50,253.00L84.27,255.05L86.45,255.14L84.74,256.50L85.32,258.61L83.50,257.40L81.68,258.61L82.26,256.50L80.55,255.14L82.73,255.05ZM87.60,251.70L88.37,253.75L90.55,253.84L88.84,255.20L89.42,257.31L87.60,256.10L85.78,257.31L86.36,255.20L84.65,253.84L86.83,253.75ZM91.60,249.00L92.37,251.05L94.55,251.14L92.84,252.50L93.42,254.61L91.60,253.40L89.78,254.61L90.36,252.50L88.65,251.14L90.83,251.05ZM96.00,247.70L96.77,249.75L98.95,249.84L97.24,251.20L97.82,253.31L96.00,252.10L94.18,253.31L94.76,251.20L93.05,249.84L95.23,249.75ZM100.80,247.50L101.57,249.55L103.75,249.64L102.04,251.00L102.62,253.11L100.80,251.90L98.98,253.11L99.56,251.00L97.85,249.64L100.03,249.55ZM103.90,242.40L104.67,244.45L106.85,244.54L105.14,245.90L105.72,248.01L103.90,246.80L102.08,248.01L102.66,245.90L100.95,244.54L103.13,244.45ZM107.10,241.60L107.87,243.65L110.05,243.74L108.34,245.10L108.92,247.21L107.10,246.00L105.28,247.21L105.86,245.10L104.15,243.74L106.33,243.65ZM110.50,240.50L111.27,242.55L113.45,242.64L111.74,244.00L112.32,246.11L110.50,244.90L108.68,246.11L109.26,244.00L107.55,242.64L109.73,242.55ZM112.50,240.40L113.27,242.45L115.45,242.54L113.74,243.90L114.32,246.01L112.50,244.80L110.68,246.01L111.26,243.90L109.55,242.54L111.73,242.45ZM115.00,244.90L115.77,246.95L117.95,247.04L116.24,248.40L116.82,250.51L115.00,249.30L113.18,250.51L113.76,248.40L112.05,247.04L114.23,246.95ZM118.20,244.10L118.97,246.15L121.15,246.24L119.44,247.60L120.02,249.71L118.20,248.50L116.38,249.71L116.96,247.60L115.25,246.24L117.43,246.15ZM121.30,243.20L122.07,245.25L124.25,245.34L122.54,246.70L123.12,248.81L121.30,247.60L119.48,248.81L120.06,246.70L118.35,245.34L120.53,245.25ZM124.10,238.40L124.87,240.45L127.05,240.54L125.34,241.90L125.92,244.01L124.10,242.80L122.28,244.01L122.86,241.90L121.15,240.54L123.33,240.45ZM126.90,237.20L127.67,239.25L129.85,239.34L128.14,240.70L128.72,242.81L126.90,241.60L125.08,242.81L125.66,240.70L123.95,239.34L126.13,239.25ZM130.10,236.00L130.87,238.05L133.05,238.14L131.34,239.50L131.92,241.61L130.10,240.40L128.28,241.61L128.86,239.50L127.15,238.14L129.33,238.05ZM133.20,234.90L133.97,236.95L136.15,237.04L134.44,238.40L135.02,240.51L133.20,239.30L131.38,240.51L131.96,238.40L130.25,237.04L132.43,236.95ZM137.30,232.80L138.07,234.85L140.25,234.94L138.54,236.30L139.12,238.41L137.30,237.20L135.48,238.41L136.06,236.30L134.35,234.94L136.53,234.85ZM141.60,230.20L142.37,232.25L144.55,232.34L142.84,233.70L143.42,235.81L141.60,234.60L139.78,235.81L140.36,233.70L138.65,232.34L140.83,232.25ZM145.90,225.10L146.67,227.15L148.85,227.24L147.14,228.60L147.72,230.71L145.90,229.50L144.08,230.71L144.66,228.60L142.95,227.24L145.13,227.15ZM151.00,223.40L151.77,225.45L153.95,225.54L152.24,226.90L152.82,229.01L151.00,227.80L149.18,229.01L149.76,226.90L148.05,225.54L150.23,225.45ZM155.30,224.20L156.07,226.25L158.25,226.34L156.54,227.70L157.12,229.81L155.30,228.60L153.48,229.81L154.06,227.70L152.35,226.34L154.53,226.25ZM160.40,223.40L161.17,225.45L163.35,225.54L161.64,226.90L162.22,229.01L160.40,227.80L158.58,229.01L159.16,226.90L157.45,225.54L159.63,225.45ZM164.70,220.00L165.47,222.05L167.65,222.14L165.94,223.50L166.52,225.61L164.70,224.40L162.88,225.61L163.46,223.50L161.75,222.14L163.93,222.05ZM168.90,218.20L169.67,220.25L171.85,220.34L170.14,221.70L170.72,223.81L168.90,222.60L167.08,223.81L167.66,221.70L165.95,220.34L168.13,220.25ZM174.00,209.70L174.77,211.75L176.95,211.84L175.24,213.20L175.82,215.31L174.00,214.10L172.18,215.31L172.76,213.20L171.05,211.84L173.23,211.75ZM177.50,208.90L178.27,210.95L180.45,211.04L178.74,212.40L179.32,214.51L177.50,213.30L175.68,214.51L176.26,212.40L174.55,211.04L176.73,210.95ZM180.90,205.40L181.67,207.45L183.85,207.54L182.14,208.90L182.72,211.01L180.90,209.80L179.08,211.01L179.66,208.90L177.95,207.54L180.13,207.45Z" fill="#000000" stroke="#000000" stroke-width="0.7" stroke-linejoin="miter"/>
<path d="M42.5,180.5H190.5" fill="none" stroke="#7a7a7a" stroke-width="1" stroke-linecap="square"/>
<path d="M190.5,180.5V299.5" fill="none" stroke="#6a6a6a" stroke-width="1" stroke-linecap="square"/>
<path d="M42.5,180.5V299.5" fill="none" stroke="#555" stroke-width="1" stroke-linecap="square"/>
<path d="M42.5,299.5H190.5" fill="none" stroke="#555" stroke-width="1" stroke-linecap="square"/>
<line x1="42.5" y1="192.5" x2="45.0" y2="192.5" stroke="#555555" stroke-width="1" />
<text x="37.8" y="195.10" font-size="9.9" text-anchor="end" fill="#222222" textLength="17.60" lengthAdjust="spacingAndGlyphs">21.0</text>
<line x1="42.5" y1="225.8" x2="45.0" y2="225.8" stroke="#555555" stroke-width="1" />
<text x="37.8" y="228.40" font-size="9.9" text-anchor="end" fill="#222222" textLength="19.10" lengthAdjust="spacingAndGlyphs">20.5</text>
<line x1="42.5" y1="259.1" x2="45.0" y2="259.1" stroke="#555555" stroke-width="1" />
<text x="37.8" y="261.70" font-size="9.9" text-anchor="end" fill="#222222" textLength="19.10" lengthAdjust="spacingAndGlyphs">20.0</text>
<line x1="42.5" y1="292.4" x2="45.0" y2="292.4" stroke="#555555" stroke-width="1" />
<text x="37.8" y="295.00" font-size="9.9" text-anchor="end" fill="#222222" textLength="18.00" lengthAdjust="spacingAndGlyphs">19.5</text>
<line x1="190.5" y1="180.5" x2="188.0" y2="180.5" stroke="#555555" stroke-width="1" />
<text x="194.8" y="183.10" font-size="9.9" text-anchor="start" fill="#222222" textLength="13.55" lengthAdjust="spacingAndGlyphs">4.0</text>
<line x1="190.5" y1="220" x2="188.0" y2="220" stroke="#555555" stroke-width="1" />
<text x="194.8" y="222.60" font-size="9.9" text-anchor="start" fill="#222222" textLength="13.00" lengthAdjust="spacingAndGlyphs">3.7</text>
<line x1="190.5" y1="259.5" x2="188.0" y2="259.5" stroke="#555555" stroke-width="1" />
<text x="194.8" y="262.10" font-size="9.9" text-anchor="start" fill="#222222" textLength="13.15" lengthAdjust="spacingAndGlyphs">3.4</text>
<line x1="190.5" y1="299" x2="188.0" y2="299" stroke="#555555" stroke-width="1" />
<text x="194.8" y="301.60" font-size="9.9" text-anchor="start" fill="#222222" textLength="12.00" lengthAdjust="spacingAndGlyphs">3.1</text>
<line x1="50.5" y1="299.5" x2="50.5" y2="297.0" stroke="#555555" stroke-width="1" />
<text x="50.50" y="311.3" font-size="9.9" text-anchor="middle" fill="#222222" textLength="5.70" lengthAdjust="spacingAndGlyphs">0</text>
<line x1="78.4" y1="299.5" x2="78.4" y2="297.0" stroke="#555555" stroke-width="1" />
<text x="78.40" y="311.3" font-size="9.9" text-anchor="middle" fill="#222222" textLength="15.60" lengthAdjust="spacingAndGlyphs">100</text>
<line x1="106.30000000000001" y1="299.5" x2="106.30000000000001" y2="297.0" stroke="#555555" stroke-width="1" />
<text x="106.30" y="311.3" font-size="9.9" text-anchor="middle" fill="#222222" textLength="16.60" lengthAdjust="spacingAndGlyphs">200</text>
<line x1="134.2" y1="299.5" x2="134.2" y2="297.0" stroke="#555555" stroke-width="1" />
<text x="134.20" y="311.3" font-size="9.9" text-anchor="middle" fill="#222222" textLength="16.70" lengthAdjust="spacingAndGlyphs">300</text>
<line x1="162.10000000000002" y1="299.5" x2="162.10000000000002" y2="297.0" stroke="#555555" stroke-width="1" />
<text x="162.10" y="311.3" font-size="9.9" text-anchor="middle" fill="#222222" textLength="16.75" lengthAdjust="spacingAndGlyphs">400</text>
<text x="190.00" y="311.3" font-size="9.9" text-anchor="middle" fill="#222222" textLength="17.10" lengthAdjust="spacingAndGlyphs">500</text>
<text x="116.50" y="326.4" font-size="10" text-anchor="middle" fill="#222222" font-weight="normal" letter-spacing="0.15" >Time (h)</text>
<text x="51" y="192.2" font-size="8.8" text-anchor="start" fill="#222222" font-weight="normal" >Mean</text>
<line x1="61.2" y1="194.8" x2="61.2" y2="203.3" stroke="#111" stroke-width="1" />
<path d="M59.0,201.3L63.400000000000006,201.3L61.2,205.3Z" fill="#111"/>
<path d="M47.5,209.8H74.4M47.5,206.4V213.20000000000002M74.4,206.4V213.20000000000002" stroke="#6a6a6a" stroke-width="1" fill="none"/>
<path d="M60.90,206.40L61.74,208.64L64.13,208.75L62.26,210.24L62.90,212.55L60.90,211.23L58.90,212.55L59.54,210.24L57.67,208.75L60.06,208.64Z" fill="#000" stroke="#000" stroke-width="0.5"/>
<text x="78.8" y="212.00" font-size="8.8" text-anchor="start" fill="#222222" font-weight="normal" textLength="10.6" lengthAdjust="spacingAndGlyphs">SD</text>
<text x="46.9" y="225.90" font-size="8.8" text-anchor="start" fill="#222222" font-weight="normal" textLength="52.2" lengthAdjust="spacingAndGlyphs">Samples = 10</text>
<text transform="translate(8.8,240.3) rotate(-90)" font-size="10" text-anchor="middle" fill="#008000">Bx</text>
<text transform="translate(215.3,239.8) rotate(90)" font-size="11.5" text-anchor="middle" fill="#222222"><tspan font-style="italic">n</tspan><tspan font-size="7.4" dy="2.6">Me</tspan></text>
<path d="M283.90,263.60V286.40M282.70,263.60H285.10M282.70,286.40H285.10M290.70,254.20V282.10M289.50,254.20H291.90M289.50,282.10H291.90M300.90,247.40V279.20M299.70,247.40H302.10M299.70,279.20H302.10M310.60,240.60V275.30M309.40,240.60H311.80M309.40,275.30H311.80M320.90,230.20V265.50M319.70,230.20H322.10M319.70,265.50H322.10M330.70,226.90V265.50M329.50,226.90H331.90M329.50,265.50H331.90M340.80,223.00V256.20M339.60,223.00H342.00M339.60,256.20H342.00M351.00,216.50V248.60M349.80,216.50H352.20M349.80,248.60H352.20M360.70,210.10V237.00M359.50,210.10H361.90M359.50,237.00H361.90M370.80,198.80V233.00M369.60,198.80H372.00M369.60,233.00H372.00M380.60,203.20V227.50M379.40,203.20H381.80M379.40,227.50H381.80M390.90,194.60V223.00M389.70,194.60H392.10M389.70,223.00H392.10M401.00,191.50V220.20M399.80,191.50H402.20M399.80,220.20H402.20M411.40,190.00V211.00M410.20,190.00H412.60M410.20,211.00H412.60" fill="none" stroke="#ff0000" stroke-width="1" stroke-opacity="0.4"/>
<path d="M284.9,280.5L287.8,281.5L289.7,270.8L293.6,269.8L297.5,269.8L301.4,264.9L305.3,259.1L309.2,257.1L314.1,254.2L318,247.4L320.9,245.4L325.8,246.4L329.7,243.5L333.6,242.5L338.5,243.5L342,242.5L345.5,238.5L351,234.9L356.5,233.9L362,228.4L367.5,225.7L373,222L376.6,220.2L379.4,216.5L383,213.8L388.5,210.1L394.9,206.5L399.5,203.7L404.1,199.2L408.7,198.2L412.3,198.2" fill="none" stroke="#008000" stroke-width="2.8" stroke-linejoin="round"/>
<path d="M283.50,274.30L286.80,269.80L290.70,268.40L294.60,266.50L298.50,264.00L303.40,261.00L307.30,259.10L311.20,258.10L315.10,253.20L318.00,248.40L321.90,246.40L325.80,247.00L328.70,249.00L332.60,245.40L336.50,243.50L340.40,240.60L345.50,234.90L349.20,233.00L353.70,229.40L358.30,223.90L362.90,220.20L367.50,218.40L371.10,214.70L375.70,212.00L381.20,213.80L385.80,212.00L390.30,209.20L394.90,207.40L399.50,206.50L403.20,204.60L407.70,202.80L412.30,200.10L415.10,199.20" fill="none" stroke="#ff0000" stroke-width="1.1" stroke-linejoin="round"/>
<path d="M283.50,271.30L284.24,273.28L286.35,273.37L284.70,274.69L285.26,276.73L283.50,275.56L281.74,276.73L282.30,274.69L280.65,273.37L282.76,273.28ZM286.80,266.80L287.54,268.78L289.65,268.87L288.00,270.19L288.56,272.23L286.80,271.06L285.04,272.23L285.60,270.19L283.95,268.87L286.06,268.78ZM290.70,265.40L291.44,267.38L293.55,267.47L291.90,268.79L292.46,270.83L290.70,269.66L288.94,270.83L289.50,268.79L287.85,267.47L289.96,267.38ZM294.60,263.50L295.34,265.48L297.45,265.57L295.80,266.89L296.36,268.93L294.60,267.76L292.84,268.93L293.40,266.89L291.75,265.57L293.86,265.48ZM298.50,261.00L299.24,262.98L301.35,263.07L299.70,264.39L300.26,266.43L298.50,265.26L296.74,266.43L297.30,264.39L295.65,263.07L297.76,262.98ZM303.40,258.00L304.14,259.98L306.25,260.07L304.60,261.39L305.16,263.43L303.40,262.26L301.64,263.43L302.20,261.39L300.55,260.07L302.66,259.98ZM307.30,256.10L308.04,258.08L310.15,258.17L308.50,259.49L309.06,261.53L307.30,260.36L305.54,261.53L306.10,259.49L304.45,258.17L306.56,258.08ZM311.20,255.10L311.94,257.08L314.05,257.17L312.40,258.49L312.96,260.53L311.20,259.36L309.44,260.53L310.00,258.49L308.35,257.17L310.46,257.08ZM315.10,250.20L315.84,252.18L317.95,252.27L316.30,253.59L316.86,255.63L315.10,254.46L313.34,255.63L313.90,253.59L312.25,252.27L314.36,252.18ZM318.00,245.40L318.74,247.38L320.85,247.47L319.20,248.79L319.76,250.83L318.00,249.66L316.24,250.83L316.80,248.79L315.15,247.47L317.26,247.38ZM321.90,243.40L322.64,245.38L324.75,245.47L323.10,246.79L323.66,248.83L321.90,247.66L320.14,248.83L320.70,246.79L319.05,245.47L321.16,245.38ZM325.80,244.00L326.54,245.98L328.65,246.07L327.00,247.39L327.56,249.43L325.80,248.26L324.04,249.43L324.60,247.39L322.95,246.07L325.06,245.98ZM328.70,246.00L329.44,247.98L331.55,248.07L329.90,249.39L330.46,251.43L328.70,250.26L326.94,251.43L327.50,249.39L325.85,248.07L327.96,247.98ZM332.60,242.40L333.34,244.38L335.45,244.47L333.80,245.79L334.36,247.83L332.60,246.66L330.84,247.83L331.40,245.79L329.75,244.47L331.86,244.38ZM336.50,240.50L337.24,242.48L339.35,242.57L337.70,243.89L338.26,245.93L336.50,244.76L334.74,245.93L335.30,243.89L333.65,242.57L335.76,242.48ZM340.40,237.60L341.14,239.58L343.25,239.67L341.60,240.99L342.16,243.03L340.40,241.86L338.64,243.03L339.20,240.99L337.55,239.67L339.66,239.58ZM345.50,231.90L346.24,233.88L348.35,233.97L346.70,235.29L347.26,237.33L345.50,236.16L343.74,237.33L344.30,235.29L342.65,233.97L344.76,233.88ZM349.20,230.00L349.94,231.98L352.05,232.07L350.40,233.39L350.96,235.43L349.20,234.26L347.44,235.43L348.00,233.39L346.35,232.07L348.46,231.98ZM353.70,226.40L354.44,228.38L356.55,228.47L354.90,229.79L355.46,231.83L353.70,230.66L351.94,231.83L352.50,229.79L350.85,228.47L352.96,228.38ZM358.30,220.90L359.04,222.88L361.15,222.97L359.50,224.29L360.06,226.33L358.30,225.16L356.54,226.33L357.10,224.29L355.45,222.97L357.56,222.88ZM362.90,217.20L363.64,219.18L365.75,219.27L364.10,220.59L364.66,222.63L362.90,221.46L361.14,222.63L361.70,220.59L360.05,219.27L362.16,219.18ZM367.50,215.40L368.24,217.38L370.35,217.47L368.70,218.79L369.26,220.83L367.50,219.66L365.74,220.83L366.30,218.79L364.65,217.47L366.76,217.38ZM371.10,211.70L371.84,213.68L373.95,213.77L372.30,215.09L372.86,217.13L371.10,215.96L369.34,217.13L369.90,215.09L368.25,213.77L370.36,213.68ZM375.70,209.00L376.44,210.98L378.55,211.07L376.90,212.39L377.46,214.43L375.70,213.26L373.94,214.43L374.50,212.39L372.85,211.07L374.96,210.98ZM381.20,210.80L381.94,212.78L384.05,212.87L382.40,214.19L382.96,216.23L381.20,215.06L379.44,216.23L380.00,214.19L378.35,212.87L380.46,212.78ZM385.80,209.00L386.54,210.98L388.65,211.07L387.00,212.39L387.56,214.43L385.80,213.26L384.04,214.43L384.60,212.39L382.95,211.07L385.06,210.98ZM390.30,206.20L391.04,208.18L393.15,208.27L391.50,209.59L392.06,211.63L390.30,210.46L388.54,211.63L389.10,209.59L387.45,208.27L389.56,208.18ZM394.90,204.40L395.64,206.38L397.75,206.47L396.10,207.79L396.66,209.83L394.90,208.66L393.14,209.83L393.70,207.79L392.05,206.47L394.16,206.38ZM399.50,203.50L400.24,205.48L402.35,205.57L400.70,206.89L401.26,208.93L399.50,207.76L397.74,208.93L398.30,206.89L396.65,205.57L398.76,205.48ZM403.20,201.60L403.94,203.58L406.05,203.67L404.40,204.99L404.96,207.03L403.20,205.86L401.44,207.03L402.00,204.99L400.35,203.67L402.46,203.58ZM407.70,199.80L408.44,201.78L410.55,201.87L408.90,203.19L409.46,205.23L407.70,204.06L405.94,205.23L406.50,203.19L404.85,201.87L406.96,201.78ZM412.30,197.10L413.04,199.08L415.15,199.17L413.50,200.49L414.06,202.53L412.30,201.36L410.54,202.53L411.10,200.49L409.45,199.17L411.56,199.08ZM415.10,196.20L415.84,198.18L417.95,198.27L416.30,199.59L416.86,201.63L415.10,200.46L413.34,201.63L413.90,199.59L412.25,198.27L414.36,198.18Z" fill="#ff0000" stroke="#ff0000" stroke-width="0.7" stroke-linejoin="miter"/>
<path d="M275.5,180.5H423" fill="none" stroke="#7a7a7a" stroke-width="1" stroke-linecap="square"/>
<path d="M423,180.5V299.5" fill="none" stroke="#b5b5b5" stroke-width="1" stroke-linecap="square"/>
<path d="M275.5,180.5V299.5" fill="none" stroke="#555" stroke-width="1" stroke-linecap="square"/>
<path d="M275.5,299.5H423" fill="none" stroke="#555" stroke-width="1" stroke-linecap="square"/>
<line x1="275.5" y1="189.6" x2="278.0" y2="189.6" stroke="#555555" stroke-width="1" />
<text x="270.8" y="192.20" font-size="9.9" text-anchor="end" fill="#222222" textLength="17.60" lengthAdjust="spacingAndGlyphs">10.7</text>
<line x1="275.5" y1="222.9" x2="278.0" y2="222.9" stroke="#555555" stroke-width="1" />
<text x="270.8" y="225.50" font-size="9.9" text-anchor="end" fill="#222222" textLength="16.60" lengthAdjust="spacingAndGlyphs">10.1</text>
<line x1="275.5" y1="256" x2="278.0" y2="256" stroke="#555555" stroke-width="1" />
<text x="270.8" y="258.60" font-size="9.9" text-anchor="end" fill="#222222" textLength="13.80" lengthAdjust="spacingAndGlyphs">9.5</text>
<line x1="275.5" y1="289" x2="278.0" y2="289" stroke="#555555" stroke-width="1" />
<text x="270.8" y="291.60" font-size="9.9" text-anchor="end" fill="#222222" textLength="13.70" lengthAdjust="spacingAndGlyphs">8.9</text>
<line x1="423" y1="180.5" x2="420.5" y2="180.5" stroke="#555555" stroke-width="1" />
<text x="427.4" y="183.10" font-size="9.9" text-anchor="start" fill="#222222" textLength="12.05" lengthAdjust="spacingAndGlyphs">4.1</text>
<line x1="423" y1="216" x2="420.5" y2="216" stroke="#555555" stroke-width="1" />
<text x="427.4" y="218.60" font-size="9.9" text-anchor="start" fill="#222222" textLength="13.40" lengthAdjust="spacingAndGlyphs">3.8</text>
<line x1="423" y1="251.25" x2="420.5" y2="251.25" stroke="#555555" stroke-width="1" />
<text x="427.4" y="253.85" font-size="9.9" text-anchor="start" fill="#222222" textLength="13.50" lengthAdjust="spacingAndGlyphs">3.5</text>
<line x1="423" y1="286.75" x2="420.5" y2="286.75" stroke="#555555" stroke-width="1" />
<text x="427.4" y="289.35" font-size="9.9" text-anchor="start" fill="#222222" textLength="13.00" lengthAdjust="spacingAndGlyphs">3.2</text>
<line x1="283.5" y1="299.5" x2="283.5" y2="297.0" stroke="#555555" stroke-width="1" />
<text x="283.50" y="311.3" font-size="9.9" text-anchor="middle" fill="#222222" textLength="5.70" lengthAdjust="spacingAndGlyphs">0</text>
<line x1="311.4" y1="299.5" x2="311.4" y2="297.0" stroke="#555555" stroke-width="1" />
<text x="311.40" y="311.3" font-size="9.9" text-anchor="middle" fill="#222222" textLength="15.60" lengthAdjust="spacingAndGlyphs">100</text>
<line x1="339.3" y1="299.5" x2="339.3" y2="297.0" stroke="#555555" stroke-width="1" />
<text x="339.30" y="311.3" font-size="9.9" text-anchor="middle" fill="#222222" textLength="16.60" lengthAdjust="spacingAndGlyphs">200</text>
<line x1="367.2" y1="299.5" x2="367.2" y2="297.0" stroke="#555555" stroke-width="1" />
<text x="367.20" y="311.3" font-size="9.9" text-anchor="middle" fill="#222222" textLength="16.70" lengthAdjust="spacingAndGlyphs">300</text>
<line x1="395.1" y1="299.5" x2="395.1" y2="297.0" stroke="#555555" stroke-width="1" />
<text x="395.10" y="311.3" font-size="9.9" text-anchor="middle" fill="#222222" textLength="16.75" lengthAdjust="spacingAndGlyphs">400</text>
<text x="423.00" y="311.3" font-size="9.9" text-anchor="middle" fill="#222222" textLength="17.10" lengthAdjust="spacingAndGlyphs">500</text>
<text x="349.25" y="326.4" font-size="10" text-anchor="middle" fill="#222222" font-weight="normal" letter-spacing="0.15" >Time (h)</text>
<text x="284.7" y="192.2" font-size="8.8" text-anchor="start" fill="#222222" font-weight="normal" >Mean</text>
<line x1="295.3" y1="194.8" x2="295.3" y2="203.3" stroke="#111" stroke-width="1" />
<path d="M293.1,201.3L297.5,201.3L295.3,205.3Z" fill="#111"/>
<path d="M281.5,210H307.6M281.5,206.6V213.4M307.6,206.6V213.4" stroke="#ff8f8f" stroke-width="1" fill="none"/>
<path d="M294.50,206.60L295.34,208.84L297.73,208.95L295.86,210.44L296.50,212.75L294.50,211.43L292.50,212.75L293.14,210.44L291.27,208.95L293.66,208.84Z" fill="#ff0000" stroke="#ff0000" stroke-width="0.5"/>
<text x="312.3" y="212.30" font-size="8.8" text-anchor="start" fill="#222222" font-weight="normal" textLength="10.6" lengthAdjust="spacingAndGlyphs">SD</text>
<text x="279.5" y="226.10" font-size="8.8" text-anchor="start" fill="#222222" font-weight="normal" textLength="52.2" lengthAdjust="spacingAndGlyphs">Samples = 10</text>
<text transform="translate(248,240.3) rotate(-90)" font-size="10" text-anchor="middle" fill="#008000">Bx</text>
<text transform="translate(450.6,242.0) rotate(90)" font-size="11.5" text-anchor="middle" fill="#ff0000"><tspan font-style="italic">n</tspan><tspan font-size="7.4" dy="2.6">Me</tspan></text>
<path d="M513.50,244.10V267.00M512.30,244.10H514.70M512.30,267.00H514.70M520.40,242.00V269.00M519.20,242.00H521.60M519.20,269.00H521.60M530.50,241.40V272.00M529.30,241.40H531.70M529.30,272.00H531.70M540.60,242.50V268.25M539.40,242.50H541.80M539.40,268.25H541.80M550.40,236.10V270.00M549.20,236.10H551.60M549.20,270.00H551.60M560.40,217.50V282.00M559.20,217.50H561.60M559.20,282.00H561.60M570.30,217.00V279.00M569.10,217.00H571.50M569.10,279.00H571.50M580.30,214.50V268.25M579.10,214.50H581.50M579.10,268.25H581.50M590.30,211.25V257.00M589.10,211.25H591.50M589.10,257.00H591.50M600.30,217.00V262.00M599.10,217.00H601.50M599.10,262.00H601.50M611.00,214.40V257.00M609.80,214.40H612.20M609.80,257.00H612.20M620.70,207.30V247.00M619.50,207.30H621.90M619.50,247.00H621.90M630.70,215.90V248.25M629.50,215.90H631.90M629.50,248.25H631.90M640.50,211.20V245.75M639.30,211.20H641.70M639.30,245.75H641.70" fill="none" stroke="#0000ff" stroke-width="1" stroke-opacity="0.55"/>
<path d="M513.5,251.2L516.8,237L520.6,242.5L523.9,237L527.2,239.7L530.5,245.7L534.3,241.4L537.1,232.6L540.4,241.9L543.1,243L546.9,239.7L550.8,247.4L554.1,245.7L557.4,249.6L560.6,255.6L564,247.6L567.4,246.2L572.1,244.2L576.8,248.9L580.8,244.2L585.5,246.9L590.2,243.5L594.2,244.2L598.9,240.9L602.3,238.8L605.6,229.4L608.3,228.1L611,227.5L613.7,223.8L616.7,228L620.4,230.5L624,219.5L628.3,228.7L632,225L635.6,223.8L638.7,225.6L644.1,218.3" fill="none" stroke="#008000" stroke-width="2.6" stroke-linejoin="round"/>
<path d="M513.50,255.60L517.30,255.10L520.60,255.80L523.40,255.10L527.20,258.40L530.50,257.30L533.80,257.30L537.10,254.00L540.40,254.50L543.60,251.80L546.90,254.00L550.20,253.40L553.00,250.10L556.30,250.70L560.10,250.10L564.00,250.00L566.70,249.60L570.00,248.20L573.40,246.90L576.80,242.20L580.10,241.50L584.10,240.20L587.50,233.50L590.80,233.50L594.20,233.50L596.90,240.20L600.20,240.20L603.60,238.20L607.00,236.80L610.60,236.00L614.30,229.90L617.90,228.70L621.00,228.00L624.00,223.80L626.50,232.30L630.10,232.30L633.80,231.10L637.40,230.50L640.50,228.00L644.10,223.80" fill="none" stroke="#0000ff" stroke-width="1.0" stroke-linejoin="round"/>
<path d="M513.50,252.70L514.22,254.61L516.26,254.70L514.66,255.98L515.20,257.95L513.50,256.82L511.80,257.95L512.34,255.98L510.74,254.70L512.78,254.61ZM517.30,252.20L518.02,254.11L520.06,254.20L518.46,255.48L519.00,257.45L517.30,256.32L515.60,257.45L516.14,255.48L514.54,254.20L516.58,254.11ZM520.60,252.90L521.32,254.81L523.36,254.90L521.76,256.18L522.30,258.15L520.60,257.02L518.90,258.15L519.44,256.18L517.84,254.90L519.88,254.81ZM523.40,252.20L524.12,254.11L526.16,254.20L524.56,255.48L525.10,257.45L523.40,256.32L521.70,257.45L522.24,255.48L520.64,254.20L522.68,254.11ZM527.20,255.50L527.92,257.41L529.96,257.50L528.36,258.78L528.90,260.75L527.20,259.62L525.50,260.75L526.04,258.78L524.44,257.50L526.48,257.41ZM530.50,254.40L531.22,256.31L533.26,256.40L531.66,257.68L532.20,259.65L530.50,258.52L528.80,259.65L529.34,257.68L527.74,256.40L529.78,256.31ZM533.80,254.40L534.52,256.31L536.56,256.40L534.96,257.68L535.50,259.65L533.80,258.52L532.10,259.65L532.64,257.68L531.04,256.40L533.08,256.31ZM537.10,251.10L537.82,253.01L539.86,253.10L538.26,254.38L538.80,256.35L537.10,255.22L535.40,256.35L535.94,254.38L534.34,253.10L536.38,253.01ZM540.40,251.60L541.12,253.51L543.16,253.60L541.56,254.88L542.10,256.85L540.40,255.72L538.70,256.85L539.24,254.88L537.64,253.60L539.68,253.51ZM543.60,248.90L544.32,250.81L546.36,250.90L544.76,252.18L545.30,254.15L543.60,253.02L541.90,254.15L542.44,252.18L540.84,250.90L542.88,250.81ZM546.90,251.10L547.62,253.01L549.66,253.10L548.06,254.38L548.60,256.35L546.90,255.22L545.20,256.35L545.74,254.38L544.14,253.10L546.18,253.01ZM550.20,250.50L550.92,252.41L552.96,252.50L551.36,253.78L551.90,255.75L550.20,254.62L548.50,255.75L549.04,253.78L547.44,252.50L549.48,252.41ZM553.00,247.20L553.72,249.11L555.76,249.20L554.16,250.48L554.70,252.45L553.00,251.32L551.30,252.45L551.84,250.48L550.24,249.20L552.28,249.11ZM556.30,247.80L557.02,249.71L559.06,249.80L557.46,251.08L558.00,253.05L556.30,251.92L554.60,253.05L555.14,251.08L553.54,249.80L555.58,249.71ZM560.10,247.20L560.82,249.11L562.86,249.20L561.26,250.48L561.80,252.45L560.10,251.32L558.40,252.45L558.94,250.48L557.34,249.20L559.38,249.11ZM564.00,247.10L564.72,249.01L566.76,249.10L565.16,250.38L565.70,252.35L564.00,251.22L562.30,252.35L562.84,250.38L561.24,249.10L563.28,249.01ZM566.70,246.70L567.42,248.61L569.46,248.70L567.86,249.98L568.40,251.95L566.70,250.82L565.00,251.95L565.54,249.98L563.94,248.70L565.98,248.61ZM570.00,245.30L570.72,247.21L572.76,247.30L571.16,248.58L571.70,250.55L570.00,249.42L568.30,250.55L568.84,248.58L567.24,247.30L569.28,247.21ZM573.40,244.00L574.12,245.91L576.16,246.00L574.56,247.28L575.10,249.25L573.40,248.12L571.70,249.25L572.24,247.28L570.64,246.00L572.68,245.91ZM576.80,239.30L577.52,241.21L579.56,241.30L577.96,242.58L578.50,244.55L576.80,243.42L575.10,244.55L575.64,242.58L574.04,241.30L576.08,241.21ZM580.10,238.60L580.82,240.51L582.86,240.60L581.26,241.88L581.80,243.85L580.10,242.72L578.40,243.85L578.94,241.88L577.34,240.60L579.38,240.51ZM584.10,237.30L584.82,239.21L586.86,239.30L585.26,240.58L585.80,242.55L584.10,241.42L582.40,242.55L582.94,240.58L581.34,239.30L583.38,239.21ZM587.50,230.60L588.22,232.51L590.26,232.60L588.66,233.88L589.20,235.85L587.50,234.72L585.80,235.85L586.34,233.88L584.74,232.60L586.78,232.51ZM590.80,230.60L591.52,232.51L593.56,232.60L591.96,233.88L592.50,235.85L590.80,234.72L589.10,235.85L589.64,233.88L588.04,232.60L590.08,232.51ZM594.20,230.60L594.92,232.51L596.96,232.60L595.36,233.88L595.90,235.85L594.20,234.72L592.50,235.85L593.04,233.88L591.44,232.60L593.48,232.51ZM596.90,237.30L597.62,239.21L599.66,239.30L598.06,240.58L598.60,242.55L596.90,241.42L595.20,242.55L595.74,240.58L594.14,239.30L596.18,239.21ZM600.20,237.30L600.92,239.21L602.96,239.30L601.36,240.58L601.90,242.55L600.20,241.42L598.50,242.55L599.04,240.58L597.44,239.30L599.48,239.21ZM603.60,235.30L604.32,237.21L606.36,237.30L604.76,238.58L605.30,240.55L603.60,239.42L601.90,240.55L602.44,238.58L600.84,237.30L602.88,237.21ZM607.00,233.90L607.72,235.81L609.76,235.90L608.16,237.18L608.70,239.15L607.00,238.02L605.30,239.15L605.84,237.18L604.24,235.90L606.28,235.81ZM610.60,233.10L611.32,235.01L613.36,235.10L611.76,236.38L612.30,238.35L610.60,237.22L608.90,238.35L609.44,236.38L607.84,235.10L609.88,235.01ZM614.30,227.00L615.02,228.91L617.06,229.00L615.46,230.28L616.00,232.25L614.30,231.12L612.60,232.25L613.14,230.28L611.54,229.00L613.58,228.91ZM617.90,225.80L618.62,227.71L620.66,227.80L619.06,229.08L619.60,231.05L617.90,229.92L616.20,231.05L616.74,229.08L615.14,227.80L617.18,227.71ZM621.00,225.10L621.72,227.01L623.76,227.10L622.16,228.38L622.70,230.35L621.00,229.22L619.30,230.35L619.84,228.38L618.24,227.10L620.28,227.01ZM624.00,220.90L624.72,222.81L626.76,222.90L625.16,224.18L625.70,226.15L624.00,225.02L622.30,226.15L622.84,224.18L621.24,222.90L623.28,222.81ZM626.50,229.40L627.22,231.31L629.26,231.40L627.66,232.68L628.20,234.65L626.50,233.52L624.80,234.65L625.34,232.68L623.74,231.40L625.78,231.31ZM630.10,229.40L630.82,231.31L632.86,231.40L631.26,232.68L631.80,234.65L630.10,233.52L628.40,234.65L628.94,232.68L627.34,231.40L629.38,231.31ZM633.80,228.20L634.52,230.11L636.56,230.20L634.96,231.48L635.50,233.45L633.80,232.32L632.10,233.45L632.64,231.48L631.04,230.20L633.08,230.11ZM637.40,227.60L638.12,229.51L640.16,229.60L638.56,230.88L639.10,232.85L637.40,231.72L635.70,232.85L636.24,230.88L634.64,229.60L636.68,229.51ZM640.50,225.10L641.22,227.01L643.26,227.10L641.66,228.38L642.20,230.35L640.50,229.22L638.80,230.35L639.34,228.38L637.74,227.10L639.78,227.01ZM644.10,220.90L644.82,222.81L646.86,222.90L645.26,224.18L645.80,226.15L644.10,225.02L642.40,226.15L642.94,224.18L641.34,222.90L643.38,222.81Z" fill="#0000ff" stroke="#0000ff" stroke-width="0.6" stroke-linejoin="miter"/>
<path d="M505.5,180.5H652.5" fill="none" stroke="#888888" stroke-width="1" stroke-linecap="square"/>
<path d="M652.5,180.5V299.5" fill="none" stroke="#666666" stroke-width="1" stroke-linecap="square"/>
<path d="M505.5,180.5V299.5" fill="none" stroke="#b0b0b0" stroke-width="1" stroke-linecap="square"/>
<path d="M505.5,299.5H652.5" fill="none" stroke="#555" stroke-width="1" stroke-linecap="square"/>
<line x1="505.5" y1="183.4" x2="508.0" y2="183.4" stroke="#555555" stroke-width="1" />
<text x="500.6" y="186.00" font-size="9.9" text-anchor="end" fill="#222222" textLength="17.60" lengthAdjust="spacingAndGlyphs">13.8</text>
<line x1="505.5" y1="241.5" x2="508.0" y2="241.5" stroke="#555555" stroke-width="1" />
<text x="500.6" y="244.10" font-size="9.9" text-anchor="end" fill="#222222" textLength="17.35" lengthAdjust="spacingAndGlyphs">13.4</text>
<line x1="505.5" y1="299" x2="508.0" y2="299" stroke="#555555" stroke-width="1" />
<text x="500.6" y="301.60" font-size="9.9" text-anchor="end" fill="#222222" textLength="17.70" lengthAdjust="spacingAndGlyphs">13.0</text>
<line x1="652.5" y1="180.5" x2="650.0" y2="180.5" stroke="#555555" stroke-width="1" />
<text x="657" y="183.10" font-size="9.9" text-anchor="start" fill="#222222" textLength="13.55" lengthAdjust="spacingAndGlyphs">4.0</text>
<line x1="652.5" y1="217" x2="650.0" y2="217" stroke="#555555" stroke-width="1" />
<text x="657" y="219.60" font-size="9.9" text-anchor="start" fill="#222222" textLength="13.40" lengthAdjust="spacingAndGlyphs">3.6</text>
<line x1="652.5" y1="253.25" x2="650.0" y2="253.25" stroke="#555555" stroke-width="1" />
<text x="657" y="255.85" font-size="9.9" text-anchor="start" fill="#222222" textLength="13.00" lengthAdjust="spacingAndGlyphs">3.2</text>
<line x1="652.5" y1="289.5" x2="650.0" y2="289.5" stroke="#555555" stroke-width="1" />
<text x="657" y="292.10" font-size="9.9" text-anchor="start" fill="#222222" textLength="13.30" lengthAdjust="spacingAndGlyphs">2.8</text>
<line x1="514.0" y1="299.5" x2="514.0" y2="297.0" stroke="#555555" stroke-width="1" />
<text x="514.00" y="311.3" font-size="9.9" text-anchor="middle" fill="#222222" textLength="5.70" lengthAdjust="spacingAndGlyphs">0</text>
<line x1="541.75" y1="299.5" x2="541.75" y2="297.0" stroke="#555555" stroke-width="1" />
<text x="541.75" y="311.3" font-size="9.9" text-anchor="middle" fill="#222222" textLength="15.60" lengthAdjust="spacingAndGlyphs">100</text>
<line x1="569.5" y1="299.5" x2="569.5" y2="297.0" stroke="#555555" stroke-width="1" />
<text x="569.50" y="311.3" font-size="9.9" text-anchor="middle" fill="#222222" textLength="16.60" lengthAdjust="spacingAndGlyphs">200</text>
<line x1="597.25" y1="299.5" x2="597.25" y2="297.0" stroke="#555555" stroke-width="1" />
<text x="597.25" y="311.3" font-size="9.9" text-anchor="middle" fill="#222222" textLength="16.70" lengthAdjust="spacingAndGlyphs">300</text>
<line x1="625.0" y1="299.5" x2="625.0" y2="297.0" stroke="#555555" stroke-width="1" />
<text x="625.00" y="311.3" font-size="9.9" text-anchor="middle" fill="#222222" textLength="16.75" lengthAdjust="spacingAndGlyphs">400</text>
<text x="652.75" y="311.3" font-size="9.9" text-anchor="middle" fill="#222222" textLength="17.10" lengthAdjust="spacingAndGlyphs">500</text>
<text x="579.00" y="326.4" font-size="10" text-anchor="middle" fill="#222222" font-weight="normal" letter-spacing="0.15" >Time (h)</text>
<text x="513.3" y="190.5" font-size="8.8" text-anchor="start" fill="#222222" font-weight="normal" >Mean</text>
<line x1="523.5" y1="193" x2="523.5" y2="202" stroke="#111" stroke-width="1" />
<path d="M521.3,200L525.7,200L523.5,204Z" fill="#111"/>
<path d="M509.5,208.4H536M509.5,205.0V211.8M536,205.0V211.8" stroke="#7f7fff" stroke-width="1" fill="none"/>
<path d="M522.90,205.00L523.74,207.24L526.13,207.35L524.26,208.84L524.90,211.15L522.90,209.83L520.90,211.15L521.54,208.84L519.67,207.35L522.06,207.24Z" fill="#0000ff" stroke="#0000ff" stroke-width="0.5"/>
<text x="541" y="210.90" font-size="8.8" text-anchor="start" fill="#222222" font-weight="normal" textLength="10.6" lengthAdjust="spacingAndGlyphs">SD</text>
<text x="508.8" y="223.90" font-size="8.8" text-anchor="start" fill="#222222" font-weight="normal" textLength="52.2" lengthAdjust="spacingAndGlyphs">Samples = 10</text>
<text transform="translate(476,240) rotate(-90)" font-size="10" text-anchor="middle" fill="#008000">DM</text>
<text transform="translate(679.6,239.8) rotate(90)" font-size="11.5" text-anchor="middle" fill="#0000ff"><tspan font-style="italic">n</tspan><tspan font-size="7.4" dy="2.6">Me</tspan></text>
</svg>
</body></html>
